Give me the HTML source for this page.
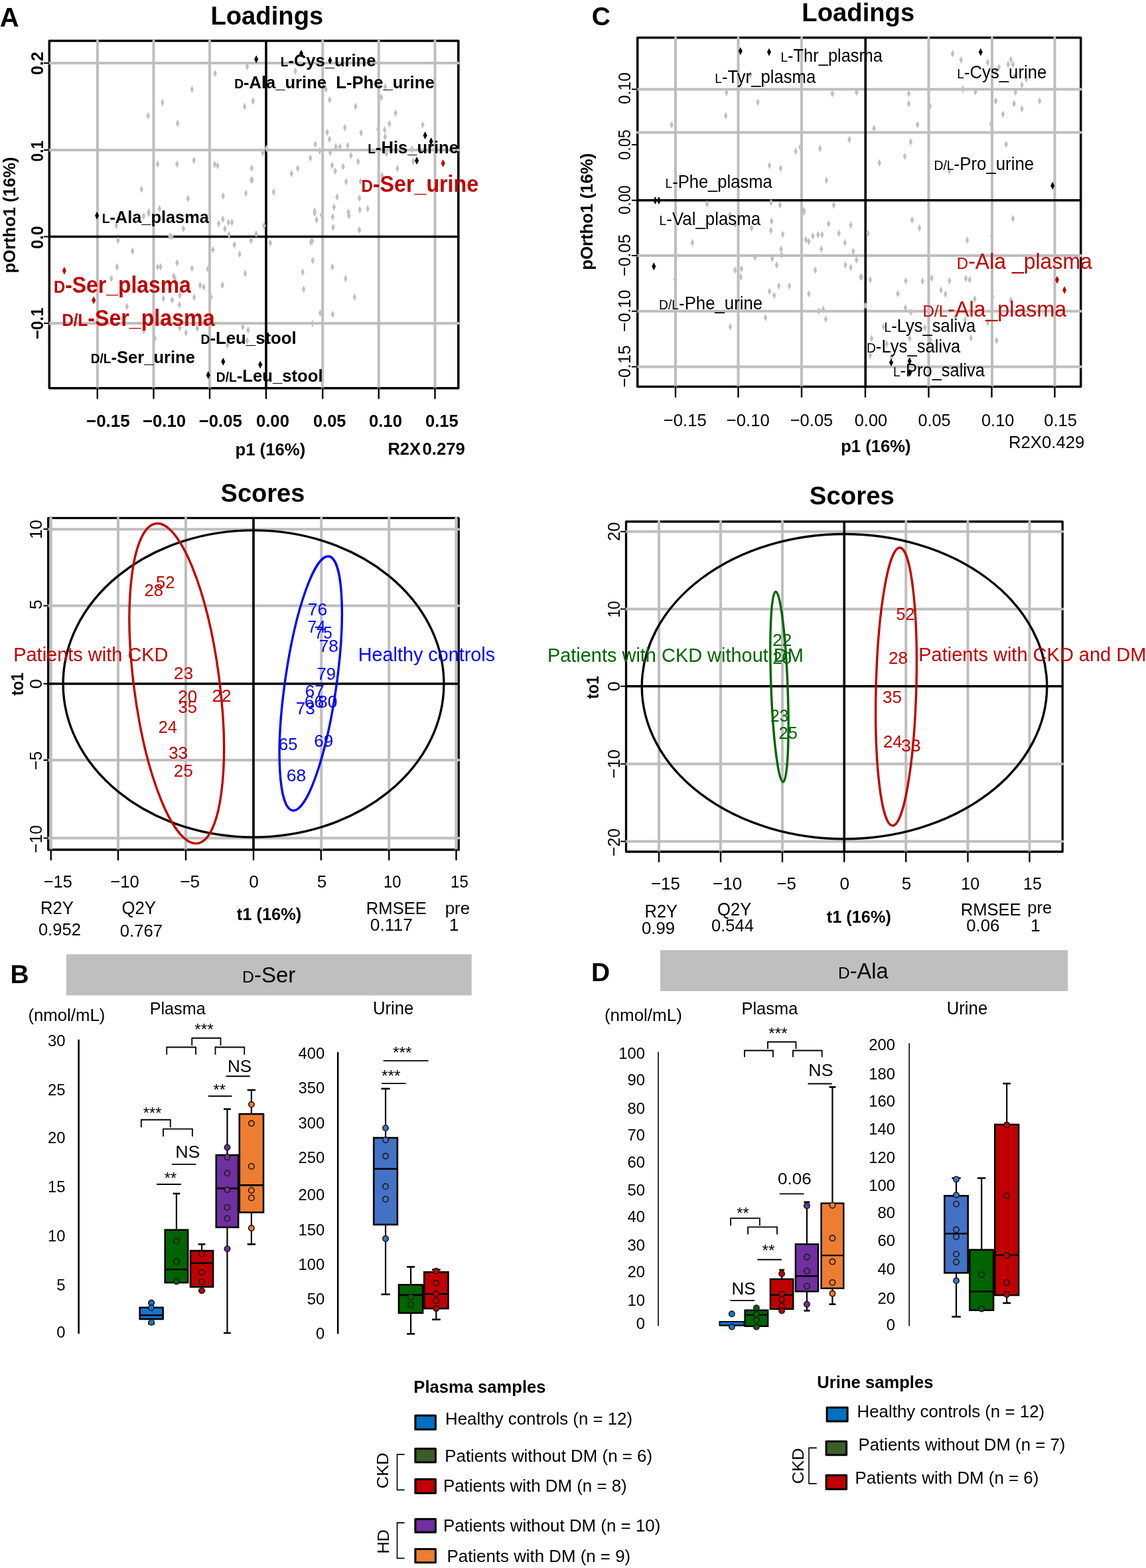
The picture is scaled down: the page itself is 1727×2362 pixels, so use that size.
<!DOCTYPE html>
<html><head><meta charset="utf-8"><title>Figure</title>
<style>html,body{margin:0;padding:0;background:#fff;}svg{display:block;}</style></head>
<body><svg width="1727" height="2362" viewBox="0 0 1727 2362" font-family='"Liberation Sans", Arial, Helvetica, sans-serif'>
<rect width="1727" height="2362" fill="#fff"/>
<rect x="74.30" y="61.50" width="616.50" height="523.30" fill="none" stroke="#000" stroke-width="3.50" stroke-linejoin="round"/>
<line x1="146.90" y1="61.50" x2="146.90" y2="584.80" stroke="#bebebe" stroke-width="4.00" stroke-linecap="round"/>
<line x1="231.50" y1="61.50" x2="231.50" y2="584.80" stroke="#bebebe" stroke-width="4.00" stroke-linecap="round"/>
<line x1="316.00" y1="61.50" x2="316.00" y2="584.80" stroke="#bebebe" stroke-width="4.00" stroke-linecap="round"/>
<line x1="486.25" y1="61.50" x2="486.25" y2="584.80" stroke="#bebebe" stroke-width="4.00" stroke-linecap="round"/>
<line x1="570.75" y1="61.50" x2="570.75" y2="584.80" stroke="#bebebe" stroke-width="4.00" stroke-linecap="round"/>
<line x1="655.50" y1="61.50" x2="655.50" y2="584.80" stroke="#bebebe" stroke-width="4.00" stroke-linecap="round"/>
<line x1="74.30" y1="95.10" x2="690.80" y2="95.10" stroke="#bebebe" stroke-width="4.00" stroke-linecap="round"/>
<line x1="74.30" y1="226.00" x2="690.80" y2="226.00" stroke="#bebebe" stroke-width="4.00" stroke-linecap="round"/>
<line x1="74.30" y1="487.00" x2="690.80" y2="487.00" stroke="#bebebe" stroke-width="4.00" stroke-linecap="round"/>
<line x1="401.00" y1="61.50" x2="401.00" y2="584.80" stroke="#000" stroke-width="3.60" stroke-linecap="butt"/>
<line x1="74.30" y1="356.50" x2="690.80" y2="356.50" stroke="#000" stroke-width="3.60" stroke-linecap="butt"/>
<path d="M372.4 94.3L375.1 100.0L372.4 105.7L369.6 100.0Z" fill="#c0c0c0"/>
<path d="M324.1 105.0L326.9 110.7L324.1 116.4L321.4 110.7Z" fill="#c0c0c0"/>
<path d="M289.4 128.9L292.1 134.6L289.4 140.3L286.6 134.6Z" fill="#c0c0c0"/>
<path d="M244.8 148.8L247.6 154.5L244.8 160.2L242.1 154.5Z" fill="#c0c0c0"/>
<path d="M368.6 154.8L371.4 160.5L368.6 166.2L365.9 160.5Z" fill="#c0c0c0"/>
<path d="M381.2 146.7L383.9 152.4L381.2 158.1L378.4 152.4Z" fill="#c0c0c0"/>
<path d="M223.2 168.5L225.9 174.2L223.2 179.9L220.4 174.2Z" fill="#c0c0c0"/>
<path d="M267.7 180.1L270.4 185.8L267.7 191.5L264.9 185.8Z" fill="#c0c0c0"/>
<path d="M237.6 241.6L240.3 247.3L237.6 253.0L234.8 247.3Z" fill="#c0c0c0"/>
<path d="M266.9 241.6L269.6 247.3L266.9 253.0L264.1 247.3Z" fill="#c0c0c0"/>
<path d="M292.2 235.8L294.9 241.5L292.2 247.2L289.4 241.5Z" fill="#c0c0c0"/>
<path d="M323.7 242.0L326.4 247.7L323.7 253.4L320.9 247.7Z" fill="#c0c0c0"/>
<path d="M327.9 243.9L330.6 249.6L327.9 255.3L325.1 249.6Z" fill="#c0c0c0"/>
<path d="M379.3 247.6L382.1 253.3L379.3 259.0L376.6 253.3Z" fill="#c0c0c0"/>
<path d="M378.6 265.5L381.4 271.2L378.6 276.9L375.9 271.2Z" fill="#c0c0c0"/>
<path d="M213.2 279.5L215.9 285.2L213.2 290.9L210.4 285.2Z" fill="#c0c0c0"/>
<path d="M283.2 293.3L285.9 299.0L283.2 304.7L280.4 299.0Z" fill="#c0c0c0"/>
<path d="M336.1 289.5L338.9 295.2L336.1 300.9L333.4 295.2Z" fill="#c0c0c0"/>
<path d="M370.5 285.2L373.2 290.9L370.5 296.6L367.8 290.9Z" fill="#c0c0c0"/>
<path d="M240.4 308.6L243.2 314.3L240.4 320.0L237.7 314.3Z" fill="#c0c0c0"/>
<path d="M224.1 313.3L226.8 319.0L224.1 324.7L221.3 319.0Z" fill="#c0c0c0"/>
<path d="M445.0 101.4L447.8 107.1L445.0 112.8L442.2 107.1Z" fill="#c0c0c0"/>
<path d="M381.5 146.6L384.2 152.3L381.5 158.0L378.8 152.3Z" fill="#c0c0c0"/>
<path d="M496.7 144.7L499.4 150.4L496.7 156.1L493.9 150.4Z" fill="#c0c0c0"/>
<path d="M491.1 128.7L493.9 134.4L491.1 140.1L488.4 134.4Z" fill="#c0c0c0"/>
<path d="M574.8 141.0L577.5 146.7L574.8 152.4L572.0 146.7Z" fill="#c0c0c0"/>
<path d="M580.5 125.0L583.2 130.7L580.5 136.4L577.8 130.7Z" fill="#c0c0c0"/>
<path d="M535.9 154.5L538.6 160.2L535.9 165.9L533.1 160.2Z" fill="#c0c0c0"/>
<path d="M596.1 164.5L598.9 170.2L596.1 175.9L593.4 170.2Z" fill="#c0c0c0"/>
<path d="M519.7 186.5L522.5 192.2L519.7 197.9L517.0 192.2Z" fill="#c0c0c0"/>
<path d="M586.7 180.5L589.5 186.2L586.7 191.9L584.0 186.2Z" fill="#c0c0c0"/>
<path d="M637.0 182.4L639.8 188.1L637.0 193.8L634.2 188.1Z" fill="#c0c0c0"/>
<path d="M544.2 194.6L547.0 200.3L544.2 206.0L541.5 200.3Z" fill="#c0c0c0"/>
<path d="M493.0 193.7L495.8 199.4L493.0 205.1L490.2 199.4Z" fill="#c0c0c0"/>
<path d="M496.3 204.0L499.1 209.7L496.3 215.4L493.6 209.7Z" fill="#c0c0c0"/>
<path d="M579.5 189.9L582.2 195.6L579.5 201.3L576.8 195.6Z" fill="#c0c0c0"/>
<path d="M580.5 200.3L583.2 206.0L580.5 211.7L577.8 206.0Z" fill="#c0c0c0"/>
<path d="M569.8 189.0L572.5 194.7L569.8 200.4L567.0 194.7Z" fill="#c0c0c0"/>
<path d="M475.1 211.5L477.9 217.2L475.1 222.9L472.4 217.2Z" fill="#c0c0c0"/>
<path d="M506.1 215.3L508.9 221.0L506.1 226.7L503.4 221.0Z" fill="#c0c0c0"/>
<path d="M512.3 215.3L515.0 221.0L512.3 226.7L509.5 221.0Z" fill="#c0c0c0"/>
<path d="M524.0 213.4L526.8 219.1L524.0 224.8L521.2 219.1Z" fill="#c0c0c0"/>
<path d="M401.6 218.1L404.4 223.8L401.6 229.5L398.9 223.8Z" fill="#c0c0c0"/>
<path d="M396.0 224.7L398.8 230.4L396.0 236.1L393.2 230.4Z" fill="#c0c0c0"/>
<path d="M481.7 221.9L484.4 227.6L481.7 233.3L478.9 227.6Z" fill="#c0c0c0"/>
<path d="M497.7 224.3L500.4 230.0L497.7 235.7L494.9 230.0Z" fill="#c0c0c0"/>
<path d="M528.7 228.5L531.5 234.2L528.7 239.9L526.0 234.2Z" fill="#c0c0c0"/>
<path d="M582.4 225.7L585.1 231.4L582.4 237.1L579.6 231.4Z" fill="#c0c0c0"/>
<path d="M621.0 219.1L623.8 224.8L621.0 230.5L618.2 224.8Z" fill="#c0c0c0"/>
<path d="M467.9 232.3L470.6 238.0L467.9 243.7L465.1 238.0Z" fill="#c0c0c0"/>
<path d="M539.6 237.5L542.4 243.2L539.6 248.9L536.9 243.2Z" fill="#c0c0c0"/>
<path d="M622.8 237.5L625.5 243.2L622.8 248.9L620.0 243.2Z" fill="#c0c0c0"/>
<path d="M448.7 247.9L451.4 253.6L448.7 259.3L445.9 253.6Z" fill="#c0c0c0"/>
<path d="M439.3 255.8L442.1 261.5L439.3 267.2L436.6 261.5Z" fill="#c0c0c0"/>
<path d="M500.5 243.6L503.2 249.3L500.5 255.0L497.8 249.3Z" fill="#c0c0c0"/>
<path d="M505.2 252.0L507.9 257.7L505.2 263.4L502.4 257.7Z" fill="#c0c0c0"/>
<path d="M517.0 245.4L519.8 251.1L517.0 256.8L514.2 251.1Z" fill="#c0c0c0"/>
<path d="M598.9 248.3L601.6 254.0L598.9 259.7L596.1 254.0Z" fill="#c0c0c0"/>
<path d="M521.6 268.0L524.4 273.7L521.6 279.4L518.9 273.7Z" fill="#c0c0c0"/>
<path d="M543.4 267.6L546.1 273.3L543.4 279.0L540.6 273.3Z" fill="#c0c0c0"/>
<path d="M575.8 258.7L578.5 264.4L575.8 270.1L573.0 264.4Z" fill="#c0c0c0"/>
<path d="M412.4 283.5L415.1 289.2L412.4 294.9L409.6 289.2Z" fill="#c0c0c0"/>
<path d="M508.0 291.0L510.8 296.7L508.0 302.4L505.2 296.7Z" fill="#c0c0c0"/>
<path d="M541.5 292.9L544.2 298.6L541.5 304.3L538.8 298.6Z" fill="#c0c0c0"/>
<path d="M503.3 306.6L506.1 312.3L503.3 318.0L500.6 312.3Z" fill="#c0c0c0"/>
<path d="M474.1 312.3L476.9 318.0L474.1 323.7L471.4 318.0Z" fill="#c0c0c0"/>
<path d="M525.0 314.1L527.8 319.8L525.0 325.5L522.2 319.8Z" fill="#c0c0c0"/>
<path d="M542.3 310.4L545.0 316.1L542.3 321.8L539.5 316.1Z" fill="#c0c0c0"/>
<path d="M554.1 308.5L556.9 314.2L554.1 319.9L551.4 314.2Z" fill="#c0c0c0"/>
<path d="M380.0 265.2L382.8 270.9L380.0 276.6L377.2 270.9Z" fill="#c0c0c0"/>
<path d="M175.3 334.0L178.1 339.7L175.3 345.4L172.6 339.7Z" fill="#c0c0c0"/>
<path d="M177.8 356.5L180.6 362.2L177.8 367.9L175.1 362.2Z" fill="#c0c0c0"/>
<path d="M199.7 372.5L202.4 378.2L199.7 383.9L196.9 378.2Z" fill="#c0c0c0"/>
<path d="M176.3 396.3L179.1 402.0L176.3 407.7L173.6 402.0Z" fill="#c0c0c0"/>
<path d="M167.8 413.8L170.6 419.5L167.8 425.2L165.1 419.5Z" fill="#c0c0c0"/>
<path d="M191.3 456.0L194.1 461.7L191.3 467.4L188.6 461.7Z" fill="#c0c0c0"/>
<path d="M237.6 396.3L240.3 402.0L237.6 407.7L234.8 402.0Z" fill="#c0c0c0"/>
<path d="M241.9 396.3L244.7 402.0L241.9 407.7L239.2 402.0Z" fill="#c0c0c0"/>
<path d="M266.9 390.3L269.6 396.0L266.9 401.7L264.1 396.0Z" fill="#c0c0c0"/>
<path d="M289.4 398.4L292.1 404.1L289.4 409.8L286.6 404.1Z" fill="#c0c0c0"/>
<path d="M261.7 410.0L264.4 415.7L261.7 421.4L258.9 415.7Z" fill="#c0c0c0"/>
<path d="M263.5 413.8L266.2 419.5L263.5 425.2L260.8 419.5Z" fill="#c0c0c0"/>
<path d="M313.3 399.7L316.1 405.4L313.3 411.1L310.6 405.4Z" fill="#c0c0c0"/>
<path d="M301.6 424.1L304.4 429.8L301.6 435.5L298.9 429.8Z" fill="#c0c0c0"/>
<path d="M307.1 426.5L309.9 432.2L307.1 437.9L304.4 432.2Z" fill="#c0c0c0"/>
<path d="M292.6 442.3L295.4 448.0L292.6 453.7L289.9 448.0Z" fill="#c0c0c0"/>
<path d="M271.0 439.1L273.8 444.8L271.0 450.5L268.2 444.8Z" fill="#c0c0c0"/>
<path d="M246.3 443.8L249.1 449.5L246.3 455.2L243.6 449.5Z" fill="#c0c0c0"/>
<path d="M259.4 446.2L262.1 451.9L259.4 457.6L256.6 451.9Z" fill="#c0c0c0"/>
<path d="M270.5 453.5L273.2 459.2L270.5 464.9L267.8 459.2Z" fill="#c0c0c0"/>
<path d="M318.0 441.9L320.8 447.6L318.0 453.3L315.2 447.6Z" fill="#c0c0c0"/>
<path d="M276.3 338.7L279.1 344.4L276.3 350.1L273.6 344.4Z" fill="#c0c0c0"/>
<path d="M256.0 350.0L258.8 355.7L256.0 361.4L253.2 355.7Z" fill="#c0c0c0"/>
<path d="M258.8 350.9L261.6 356.6L258.8 362.3L256.1 356.6Z" fill="#c0c0c0"/>
<path d="M329.6 331.2L332.4 336.9L329.6 342.6L326.9 336.9Z" fill="#c0c0c0"/>
<path d="M335.8 324.6L338.6 330.3L335.8 336.0L333.1 330.3Z" fill="#c0c0c0"/>
<path d="M344.2 329.3L346.9 335.0L344.2 340.7L341.4 335.0Z" fill="#c0c0c0"/>
<path d="M349.5 329.3L352.2 335.0L349.5 340.7L346.8 335.0Z" fill="#c0c0c0"/>
<path d="M339.0 338.7L341.8 344.4L339.0 350.1L336.2 344.4Z" fill="#c0c0c0"/>
<path d="M345.2 348.1L347.9 353.8L345.2 359.5L342.4 353.8Z" fill="#c0c0c0"/>
<path d="M378.4 356.5L381.1 362.2L378.4 367.9L375.6 362.2Z" fill="#c0c0c0"/>
<path d="M353.2 363.1L355.9 368.8L353.2 374.5L350.4 368.8Z" fill="#c0c0c0"/>
<path d="M320.8 370.6L323.6 376.3L320.8 382.0L318.1 376.3Z" fill="#c0c0c0"/>
<path d="M361.1 377.2L363.9 382.9L361.1 388.6L358.4 382.9Z" fill="#c0c0c0"/>
<path d="M369.5 406.2L372.2 411.9L369.5 417.6L366.8 411.9Z" fill="#c0c0c0"/>
<path d="M335.2 424.1L337.9 429.8L335.2 435.5L332.4 429.8Z" fill="#c0c0c0"/>
<path d="M216.6 319.9L219.3 325.6L216.6 331.3L213.8 325.6Z" fill="#c0c0c0"/>
<path d="M224.1 316.2L226.8 321.9L224.1 327.6L221.3 321.9Z" fill="#c0c0c0"/>
<path d="M271.0 487.9L273.8 493.6L271.0 499.3L268.2 493.6Z" fill="#c0c0c0"/>
<path d="M280.4 495.4L283.1 501.1L280.4 506.8L277.6 501.1Z" fill="#c0c0c0"/>
<path d="M297.3 488.8L300.1 494.5L297.3 500.2L294.6 494.5Z" fill="#c0c0c0"/>
<path d="M216.6 492.6L219.3 498.3L216.6 504.0L213.8 498.3Z" fill="#c0c0c0"/>
<path d="M233.5 503.8L236.2 509.5L233.5 515.2L230.8 509.5Z" fill="#c0c0c0"/>
<path d="M365.8 486.9L368.6 492.6L365.8 498.3L363.1 492.6Z" fill="#c0c0c0"/>
<path d="M373.9 491.6L376.6 497.3L373.9 503.0L371.1 497.3Z" fill="#c0c0c0"/>
<path d="M372.4 507.6L375.1 513.3L372.4 519.0L369.6 513.3Z" fill="#c0c0c0"/>
<path d="M342.7 514.2L345.4 519.9L342.7 525.6L339.9 519.9Z" fill="#c0c0c0"/>
<path d="M397.9 334.6L400.6 340.3L397.9 346.0L395.1 340.3Z" fill="#c0c0c0"/>
<path d="M386.0 346.7L388.8 352.4L386.0 358.1L383.2 352.4Z" fill="#c0c0c0"/>
<path d="M407.3 360.4L410.1 366.1L407.3 371.8L404.6 366.1Z" fill="#c0c0c0"/>
<path d="M470.4 357.6L473.1 363.3L470.4 369.0L467.6 363.3Z" fill="#c0c0c0"/>
<path d="M468.5 359.1L471.2 364.8L468.5 370.5L465.8 364.8Z" fill="#c0c0c0"/>
<path d="M477.0 325.6L479.8 331.3L477.0 337.0L474.2 331.3Z" fill="#c0c0c0"/>
<path d="M484.5 318.1L487.2 323.8L484.5 329.5L481.8 323.8Z" fill="#c0c0c0"/>
<path d="M501.4 320.9L504.1 326.6L501.4 332.3L498.6 326.6Z" fill="#c0c0c0"/>
<path d="M502.0 336.9L504.8 342.6L502.0 348.3L499.2 342.6Z" fill="#c0c0c0"/>
<path d="M525.9 319.0L528.6 324.7L525.9 330.4L523.1 324.7Z" fill="#c0c0c0"/>
<path d="M541.5 340.7L544.2 346.4L541.5 352.1L538.8 346.4Z" fill="#c0c0c0"/>
<path d="M471.3 386.8L474.1 392.5L471.3 398.2L468.6 392.5Z" fill="#c0c0c0"/>
<path d="M500.9 396.2L503.6 401.9L500.9 407.6L498.1 401.9Z" fill="#c0c0c0"/>
<path d="M456.2 404.3L458.9 410.0L456.2 415.7L453.4 410.0Z" fill="#c0c0c0"/>
<path d="M520.8 414.1L523.5 419.8L520.8 425.5L518.0 419.8Z" fill="#c0c0c0"/>
<path d="M457.7 430.1L460.4 435.8L457.7 441.5L454.9 435.8Z" fill="#c0c0c0"/>
<path d="M534.4 441.9L537.1 447.6L534.4 453.3L531.6 447.6Z" fill="#c0c0c0"/>
<path d="M482.6 465.8L485.4 471.5L482.6 477.2L479.9 471.5Z" fill="#c0c0c0"/>
<path d="M501.4 467.7L504.1 473.4L501.4 479.1L498.6 473.4Z" fill="#c0c0c0"/>
<path d="M470.9 481.5L473.6 487.2L470.9 492.9L468.1 487.2Z" fill="#c0c0c0"/>
<path d="M474.1 315.3L476.9 321.0L474.1 326.7L471.4 321.0Z" fill="#c0c0c0"/>
<line x1="146.75" y1="584.80" x2="146.75" y2="600.00" stroke="#000" stroke-width="2.40" stroke-linecap="round"/>
<line x1="231.50" y1="584.80" x2="231.50" y2="600.00" stroke="#000" stroke-width="2.40" stroke-linecap="round"/>
<line x1="316.00" y1="584.80" x2="316.00" y2="600.00" stroke="#000" stroke-width="2.40" stroke-linecap="round"/>
<line x1="401.00" y1="584.80" x2="401.00" y2="600.00" stroke="#000" stroke-width="2.40" stroke-linecap="round"/>
<line x1="486.25" y1="584.80" x2="486.25" y2="600.00" stroke="#000" stroke-width="2.40" stroke-linecap="round"/>
<line x1="570.75" y1="584.80" x2="570.75" y2="600.00" stroke="#000" stroke-width="2.40" stroke-linecap="round"/>
<line x1="655.50" y1="584.80" x2="655.50" y2="600.00" stroke="#000" stroke-width="2.40" stroke-linecap="round"/>
<line x1="66.00" y1="95.00" x2="74.30" y2="95.00" stroke="#000" stroke-width="2.00" stroke-linecap="butt"/>
<line x1="66.00" y1="226.00" x2="74.30" y2="226.00" stroke="#000" stroke-width="2.00" stroke-linecap="butt"/>
<line x1="66.00" y1="356.50" x2="74.30" y2="356.50" stroke="#000" stroke-width="2.00" stroke-linecap="butt"/>
<line x1="66.00" y1="487.00" x2="74.30" y2="487.00" stroke="#000" stroke-width="2.00" stroke-linecap="butt"/>
<path d="M386.2 83.2L389.2 89.2L386.2 95.2L383.2 89.2Z" fill="#000"/>
<path d="M454.0 74.8L457.0 80.8L454.0 86.8L451.0 80.8Z" fill="#000"/>
<path d="M497.3 85.1L500.3 91.1L497.3 97.1L494.3 91.1Z" fill="#000"/>
<path d="M640.7 198.1L643.7 204.1L640.7 210.1L637.7 204.1Z" fill="#000"/>
<path d="M649.6 207.1L652.6 213.1L649.6 219.1L646.6 213.1Z" fill="#000"/>
<path d="M628.1 236.1L631.1 242.1L628.1 248.1L625.1 242.1Z" fill="#000"/>
<path d="M146.2 318.7L149.2 324.7L146.2 330.7L143.2 324.7Z" fill="#000"/>
<path d="M336.3 538.8L339.3 544.8L336.3 550.8L333.3 544.8Z" fill="#000"/>
<path d="M313.8 558.9L316.8 564.9L313.8 570.9L310.8 564.9Z" fill="#000"/>
<path d="M392.2 543.3L395.2 549.3L392.2 555.3L389.2 549.3Z" fill="#000"/>
<path d="M667.7 240.1L670.7 246.1L667.7 252.1L664.7 246.1Z" fill="#c00000"/>
<path d="M96.9 401.8L99.9 407.8L96.9 413.8L93.9 407.8Z" fill="#c00000"/>
<path d="M141.2 446.3L144.2 452.3L141.2 458.3L138.2 452.3Z" fill="#c00000"/>
<text transform="translate(-0.30 39.80) scale(1.0000 1)" font-size="40.00" font-weight="bold" fill="#000">A</text>
<text transform="translate(317.42 36.80) scale(0.9677 1)" font-size="39.50" font-weight="bold" fill="#000">Loadings</text>
<text transform="translate(129.96 642.60) scale(0.9781 1)" font-size="26.60" font-weight="bold" fill="#000">−0.15</text>
<text transform="translate(214.97 642.60) scale(0.9667 1)" font-size="26.60" font-weight="bold" fill="#000">−0.10</text>
<text transform="translate(299.72 642.60) scale(0.9666 1)" font-size="26.60" font-weight="bold" fill="#000">−0.05</text>
<text transform="translate(385.97 642.60) scale(0.9650 1)" font-size="26.60" font-weight="bold" fill="#000">0.00</text>
<text transform="translate(471.98 642.60) scale(0.9548 1)" font-size="26.60" font-weight="bold" fill="#000">0.05</text>
<text transform="translate(555.97 642.60) scale(0.9650 1)" font-size="26.60" font-weight="bold" fill="#000">0.10</text>
<text transform="translate(640.98 642.60) scale(0.9598 1)" font-size="26.60" font-weight="bold" fill="#000">0.15</text>
<text transform="translate(354.40 685.80) scale(0.9909 1)" font-size="26.00" font-weight="bold" fill="#000">p1 (16%)</text>
<text transform="translate(584.42 684.90) scale(0.9559 1)" font-size="26.60" font-weight="bold" fill="#000">R2X</text>
<text transform="translate(636.47 684.90) scale(0.9669 1)" font-size="26.60" font-weight="bold" fill="#000">0.279</text>
<text transform="translate(64.60 112.90) rotate(-90) scale(0.9477 1)" font-size="26.50" font-weight="bold" fill="#000">0.2</text>
<text transform="translate(64.60 243.41) rotate(-90) scale(0.8548 1)" font-size="26.50" font-weight="bold" fill="#000">0.1</text>
<text transform="translate(64.60 375.00) rotate(-90) scale(0.9391 1)" font-size="26.50" font-weight="bold" fill="#000">0.0</text>
<text transform="translate(64.60 511.07) rotate(-90) scale(0.9167 1)" font-size="26.50" font-weight="bold" fill="#000">−0.1</text>
<text transform="translate(22.60 411.59) rotate(-90) scale(0.9673 1)" font-size="26.50" font-weight="bold" fill="#000">pOrtho1 (16%)</text>
<text transform="translate(422.72 100.00) scale(0.9638 1)" font-size="26.50" font-weight="bold" fill="#000"><tspan font-size="19.88">L</tspan><tspan>-Cys_urine</tspan></text>
<text transform="translate(353.22 132.50) scale(0.9646 1)" font-size="26.50" font-weight="bold" fill="#000"><tspan font-size="19.88">D</tspan><tspan>-Ala_urine</tspan></text>
<text transform="translate(506.20 132.50) scale(0.9700 1)" font-size="26.50" font-weight="bold" fill="#000">L-Phe_urine</text>
<text transform="translate(554.22 231.00) scale(0.9649 1)" font-size="26.50" font-weight="bold" fill="#000"><tspan font-size="19.88">L</tspan><tspan>-His_urine</tspan></text>
<text transform="translate(153.73 335.50) scale(0.9584 1)" font-size="26.50" font-weight="bold" fill="#000"><tspan font-size="19.88">L</tspan><tspan>-Ala_plasma</tspan></text>
<text transform="translate(302.46 517.50) scale(0.9727 1)" font-size="26.50" font-weight="bold" fill="#000"><tspan font-size="19.88">D</tspan><tspan>-Leu_stool</tspan></text>
<text transform="translate(136.72 547.00) scale(0.9636 1)" font-size="26.50" font-weight="bold" fill="#000"><tspan font-size="19.88">D/L</tspan><tspan>-Ser_urine</tspan></text>
<text transform="translate(325.72 574.50) scale(0.9695 1)" font-size="26.50" font-weight="bold" fill="#000"><tspan font-size="19.88">D/L</tspan><tspan>-Leu_stool</tspan></text>
<text transform="translate(544.39 289.30) scale(0.9367 1)" font-size="34.40" font-weight="bold" fill="#c00000"><tspan font-size="25.80">D</tspan><tspan>-Ser_urine</tspan></text>
<text transform="translate(80.90 441.00) scale(0.9276 1)" font-size="34.40" font-weight="bold" fill="#c00000"><tspan font-size="25.80">D</tspan><tspan>-Ser_plasma</tspan></text>
<text transform="translate(93.39 490.50) scale(0.9353 1)" font-size="34.40" font-weight="bold" fill="#c00000"><tspan font-size="25.80">D/L</tspan><tspan>-Ser_plasma</tspan></text>
<rect x="960.75" y="56.80" width="668.00" height="525.70" fill="none" stroke="#000" stroke-width="3.50" stroke-linejoin="round"/>
<line x1="1018.00" y1="56.80" x2="1018.00" y2="582.50" stroke="#bebebe" stroke-width="4.00" stroke-linecap="round"/>
<line x1="1112.50" y1="56.80" x2="1112.50" y2="582.50" stroke="#bebebe" stroke-width="4.00" stroke-linecap="round"/>
<line x1="1208.00" y1="56.80" x2="1208.00" y2="582.50" stroke="#bebebe" stroke-width="4.00" stroke-linecap="round"/>
<line x1="1399.50" y1="56.80" x2="1399.50" y2="582.50" stroke="#bebebe" stroke-width="4.00" stroke-linecap="round"/>
<line x1="1495.00" y1="56.80" x2="1495.00" y2="582.50" stroke="#bebebe" stroke-width="4.00" stroke-linecap="round"/>
<line x1="1589.50" y1="56.80" x2="1589.50" y2="582.50" stroke="#bebebe" stroke-width="4.00" stroke-linecap="round"/>
<line x1="960.75" y1="134.50" x2="1629.50" y2="134.50" stroke="#bebebe" stroke-width="4.00" stroke-linecap="round"/>
<line x1="960.75" y1="199.50" x2="1629.50" y2="199.50" stroke="#bebebe" stroke-width="4.00" stroke-linecap="round"/>
<line x1="960.75" y1="385.00" x2="1629.50" y2="385.00" stroke="#bebebe" stroke-width="4.00" stroke-linecap="round"/>
<line x1="960.75" y1="468.75" x2="1629.50" y2="468.75" stroke="#bebebe" stroke-width="4.00" stroke-linecap="round"/>
<line x1="960.75" y1="552.50" x2="1629.50" y2="552.50" stroke="#bebebe" stroke-width="4.00" stroke-linecap="round"/>
<line x1="1304.25" y1="56.80" x2="1304.25" y2="582.50" stroke="#000" stroke-width="3.60" stroke-linecap="butt"/>
<line x1="960.75" y1="301.75" x2="1628.75" y2="301.75" stroke="#000" stroke-width="3.60" stroke-linecap="butt"/>
<path d="M1094.8 133.6L1097.5 139.3L1094.8 145.0L1092.0 139.3Z" fill="#c0c0c0"/>
<path d="M1142.1 148.4L1144.8 154.1L1142.1 159.8L1139.3 154.1Z" fill="#c0c0c0"/>
<path d="M1093.8 168.6L1096.5 174.3L1093.8 180.0L1091.0 174.3Z" fill="#c0c0c0"/>
<path d="M1012.1 182.4L1014.9 188.1L1012.1 193.8L1009.4 188.1Z" fill="#c0c0c0"/>
<path d="M1254.3 135.3L1257.0 141.0L1254.3 146.7L1251.5 141.0Z" fill="#c0c0c0"/>
<path d="M1290.7 133.2L1293.5 138.9L1290.7 144.6L1288.0 138.9Z" fill="#c0c0c0"/>
<path d="M1280.0 204.6L1282.8 210.3L1280.0 216.0L1277.2 210.3Z" fill="#c0c0c0"/>
<path d="M1235.8 218.0L1238.5 223.7L1235.8 229.4L1233.0 223.7Z" fill="#c0c0c0"/>
<path d="M1199.1 222.1L1201.8 227.8L1199.1 233.5L1196.3 227.8Z" fill="#c0c0c0"/>
<path d="M1205.9 215.9L1208.7 221.6L1205.9 227.3L1203.2 221.6Z" fill="#c0c0c0"/>
<path d="M1159.6 243.7L1162.3 249.4L1159.6 255.1L1156.8 249.4Z" fill="#c0c0c0"/>
<path d="M1176.5 247.8L1179.2 253.5L1176.5 259.2L1173.8 253.5Z" fill="#c0c0c0"/>
<path d="M1245.4 266.0L1248.2 271.7L1245.4 277.4L1242.7 271.7Z" fill="#c0c0c0"/>
<path d="M1083.5 269.9L1086.2 275.6L1083.5 281.3L1080.8 275.6Z" fill="#c0c0c0"/>
<path d="M1065.4 301.3L1068.2 307.0L1065.4 312.7L1062.7 307.0Z" fill="#c0c0c0"/>
<path d="M1162.1 299.3L1164.8 305.0L1162.1 310.7L1159.3 305.0Z" fill="#c0c0c0"/>
<path d="M1175.5 303.4L1178.2 309.1L1175.5 314.8L1172.8 309.1Z" fill="#c0c0c0"/>
<path d="M1256.4 303.4L1259.2 309.1L1256.4 314.8L1253.7 309.1Z" fill="#c0c0c0"/>
<path d="M1211.5 311.6L1214.2 317.3L1211.5 323.0L1208.8 317.3Z" fill="#c0c0c0"/>
<path d="M1130.8 106.9L1133.5 112.6L1130.8 118.3L1128.0 112.6Z" fill="#c0c0c0"/>
<path d="M1435.6 75.0L1438.3 80.7L1435.6 86.4L1432.8 80.7Z" fill="#c0c0c0"/>
<path d="M1448.3 84.6L1451.0 90.3L1448.3 96.0L1445.5 90.3Z" fill="#c0c0c0"/>
<path d="M1488.5 88.3L1491.2 94.0L1488.5 99.7L1485.8 94.0Z" fill="#c0c0c0"/>
<path d="M1505.3 95.5L1508.0 101.2L1505.3 106.9L1502.5 101.2Z" fill="#c0c0c0"/>
<path d="M1519.3 91.4L1522.0 97.1L1519.3 102.8L1516.5 97.1Z" fill="#c0c0c0"/>
<path d="M1523.4 84.2L1526.2 89.9L1523.4 95.6L1520.7 89.9Z" fill="#c0c0c0"/>
<path d="M1526.5 91.4L1529.2 97.1L1526.5 102.8L1523.8 97.1Z" fill="#c0c0c0"/>
<path d="M1500.8 100.7L1503.5 106.4L1500.8 112.1L1498.0 106.4Z" fill="#c0c0c0"/>
<path d="M1529.6 108.9L1532.3 114.6L1529.6 120.3L1526.8 114.6Z" fill="#c0c0c0"/>
<path d="M1546.5 113.0L1549.2 118.7L1546.5 124.4L1543.8 118.7Z" fill="#c0c0c0"/>
<path d="M1539.9 122.3L1542.7 128.0L1539.9 133.7L1537.2 128.0Z" fill="#c0c0c0"/>
<path d="M1450.8 128.5L1453.5 134.2L1450.8 139.9L1448.0 134.2Z" fill="#c0c0c0"/>
<path d="M1469.9 132.6L1472.7 138.3L1469.9 144.0L1467.2 138.3Z" fill="#c0c0c0"/>
<path d="M1530.2 133.2L1533.0 138.9L1530.2 144.6L1527.5 138.9Z" fill="#c0c0c0"/>
<path d="M1369.5 135.3L1372.2 141.0L1369.5 146.7L1366.8 141.0Z" fill="#c0c0c0"/>
<path d="M1369.5 150.5L1372.2 156.2L1369.5 161.9L1366.8 156.2Z" fill="#c0c0c0"/>
<path d="M1401.6 154.2L1404.3 159.9L1401.6 165.6L1398.8 159.9Z" fill="#c0c0c0"/>
<path d="M1500.4 146.4L1503.2 152.1L1500.4 157.8L1497.7 152.1Z" fill="#c0c0c0"/>
<path d="M1528.2 150.5L1531.0 156.2L1528.2 161.9L1525.5 156.2Z" fill="#c0c0c0"/>
<path d="M1566.7 146.4L1569.5 152.1L1566.7 157.8L1564.0 152.1Z" fill="#c0c0c0"/>
<path d="M1539.9 158.3L1542.7 164.0L1539.9 169.7L1537.2 164.0Z" fill="#c0c0c0"/>
<path d="M1511.5 166.5L1514.2 172.2L1511.5 177.9L1508.8 172.2Z" fill="#c0c0c0"/>
<path d="M1382.7 182.0L1385.5 187.7L1382.7 193.4L1380.0 187.7Z" fill="#c0c0c0"/>
<path d="M1317.2 187.5L1320.0 193.2L1317.2 198.9L1314.5 193.2Z" fill="#c0c0c0"/>
<path d="M1493.6 181.0L1496.3 186.7L1493.6 192.4L1490.8 186.7Z" fill="#c0c0c0"/>
<path d="M1495.0 189.6L1497.8 195.3L1495.0 201.0L1492.2 195.3Z" fill="#c0c0c0"/>
<path d="M1372.4 208.1L1375.2 213.8L1372.4 219.5L1369.7 213.8Z" fill="#c0c0c0"/>
<path d="M1516.2 211.8L1519.0 217.5L1516.2 223.2L1513.5 217.5Z" fill="#c0c0c0"/>
<path d="M1363.5 229.9L1366.2 235.6L1363.5 241.3L1360.8 235.6Z" fill="#c0c0c0"/>
<path d="M1325.3 239.6L1328.0 245.3L1325.3 251.0L1322.5 245.3Z" fill="#c0c0c0"/>
<path d="M1430.8 252.0L1433.5 257.7L1430.8 263.4L1428.0 257.7Z" fill="#c0c0c0"/>
<path d="M1211.5 313.9L1214.2 319.6L1211.5 325.3L1208.8 319.6Z" fill="#c0c0c0"/>
<path d="M1100.0 318.0L1102.8 323.7L1100.0 329.4L1097.2 323.7Z" fill="#c0c0c0"/>
<path d="M1162.7 327.6L1165.5 333.3L1162.7 339.0L1160.0 333.3Z" fill="#c0c0c0"/>
<path d="M1107.8 332.4L1110.5 338.1L1107.8 343.8L1105.0 338.1Z" fill="#c0c0c0"/>
<path d="M1132.5 337.9L1135.2 343.6L1132.5 349.3L1129.8 343.6Z" fill="#c0c0c0"/>
<path d="M1161.7 341.6L1164.5 347.3L1161.7 353.0L1159.0 347.3Z" fill="#c0c0c0"/>
<path d="M1179.6 347.4L1182.3 353.1L1179.6 358.8L1176.8 353.1Z" fill="#c0c0c0"/>
<path d="M1043.4 359.7L1046.2 365.4L1043.4 371.1L1040.7 365.4Z" fill="#c0c0c0"/>
<path d="M1248.7 331.3L1251.5 337.0L1248.7 342.7L1246.0 337.0Z" fill="#c0c0c0"/>
<path d="M1282.1 333.4L1284.8 339.1L1282.1 344.8L1279.3 339.1Z" fill="#c0c0c0"/>
<path d="M1214.6 355.6L1217.3 361.3L1214.6 367.0L1211.8 361.3Z" fill="#c0c0c0"/>
<path d="M1218.9 358.1L1221.7 363.8L1218.9 369.5L1216.2 363.8Z" fill="#c0c0c0"/>
<path d="M1224.9 349.9L1227.7 355.6L1224.9 361.3L1222.2 355.6Z" fill="#c0c0c0"/>
<path d="M1232.7 347.8L1235.5 353.5L1232.7 359.2L1230.0 353.5Z" fill="#c0c0c0"/>
<path d="M1238.9 347.8L1241.7 353.5L1238.9 359.2L1236.2 353.5Z" fill="#c0c0c0"/>
<path d="M1264.2 345.8L1267.0 351.5L1264.2 357.2L1261.5 351.5Z" fill="#c0c0c0"/>
<path d="M1273.2 359.7L1276.0 365.4L1273.2 371.1L1270.5 365.4Z" fill="#c0c0c0"/>
<path d="M1237.8 369.4L1240.5 375.1L1237.8 380.8L1235.0 375.1Z" fill="#c0c0c0"/>
<path d="M1177.1 369.4L1179.8 375.1L1177.1 380.8L1174.3 375.1Z" fill="#c0c0c0"/>
<path d="M1285.8 373.1L1288.5 378.8L1285.8 384.5L1283.0 378.8Z" fill="#c0c0c0"/>
<path d="M1138.0 381.8L1140.8 387.5L1138.0 393.2L1135.2 387.5Z" fill="#c0c0c0"/>
<path d="M1163.7 383.8L1166.5 389.5L1163.7 395.2L1161.0 389.5Z" fill="#c0c0c0"/>
<path d="M1177.7 378.3L1180.5 384.0L1177.7 389.7L1175.0 384.0Z" fill="#c0c0c0"/>
<path d="M1290.7 385.9L1293.5 391.6L1290.7 397.3L1288.0 391.6Z" fill="#c0c0c0"/>
<path d="M1170.5 393.5L1173.2 399.2L1170.5 404.9L1167.8 399.2Z" fill="#c0c0c0"/>
<path d="M1107.8 401.3L1110.5 407.0L1107.8 412.7L1105.0 407.0Z" fill="#c0c0c0"/>
<path d="M1117.4 399.3L1120.2 405.0L1117.4 410.7L1114.7 405.0Z" fill="#c0c0c0"/>
<path d="M1116.4 411.6L1119.2 417.3L1116.4 423.0L1113.7 417.3Z" fill="#c0c0c0"/>
<path d="M1017.2 415.3L1020.0 421.0L1017.2 426.7L1014.5 421.0Z" fill="#c0c0c0"/>
<path d="M1228.6 401.3L1231.3 407.0L1228.6 412.7L1225.8 407.0Z" fill="#c0c0c0"/>
<path d="M1273.9 393.5L1276.7 399.2L1273.9 404.9L1271.2 399.2Z" fill="#c0c0c0"/>
<path d="M1282.1 397.2L1284.8 402.9L1282.1 408.6L1279.3 402.9Z" fill="#c0c0c0"/>
<path d="M1297.1 411.6L1299.8 417.3L1297.1 423.0L1294.3 417.3Z" fill="#c0c0c0"/>
<path d="M1173.6 425.0L1176.3 430.7L1173.6 436.4L1170.8 430.7Z" fill="#c0c0c0"/>
<path d="M1189.5 425.0L1192.2 430.7L1189.5 436.4L1186.8 430.7Z" fill="#c0c0c0"/>
<path d="M1159.6 433.2L1162.3 438.9L1159.6 444.6L1156.8 438.9Z" fill="#c0c0c0"/>
<path d="M1166.8 439.4L1169.5 445.1L1166.8 450.8L1164.0 445.1Z" fill="#c0c0c0"/>
<path d="M1218.9 436.9L1221.7 442.6L1218.9 448.3L1216.2 442.6Z" fill="#c0c0c0"/>
<path d="M1208.0 453.2L1210.8 458.9L1208.0 464.6L1205.2 458.9Z" fill="#c0c0c0"/>
<path d="M1233.7 463.1L1236.5 468.8L1233.7 474.5L1231.0 468.8Z" fill="#c0c0c0"/>
<path d="M1240.5 460.0L1243.2 465.7L1240.5 471.4L1237.8 465.7Z" fill="#c0c0c0"/>
<path d="M1244.4 475.0L1247.2 480.7L1244.4 486.4L1241.7 480.7Z" fill="#c0c0c0"/>
<path d="M1153.5 472.9L1156.2 478.6L1153.5 484.3L1150.8 478.6Z" fill="#c0c0c0"/>
<path d="M1100.6 486.7L1103.3 492.4L1100.6 498.1L1097.8 492.4Z" fill="#c0c0c0"/>
<path d="M1374.6 325.6L1377.3 331.3L1374.6 337.0L1371.8 331.3Z" fill="#c0c0c0"/>
<path d="M1385.6 337.5L1388.3 343.2L1385.6 348.9L1382.8 343.2Z" fill="#c0c0c0"/>
<path d="M1307.8 345.8L1310.5 351.5L1307.8 357.2L1305.0 351.5Z" fill="#c0c0c0"/>
<path d="M1457.6 356.0L1460.3 361.7L1457.6 367.4L1454.8 361.7Z" fill="#c0c0c0"/>
<path d="M1526.5 323.5L1529.2 329.2L1526.5 334.9L1523.8 329.2Z" fill="#c0c0c0"/>
<path d="M1494.6 349.9L1497.3 355.6L1494.6 361.3L1491.8 355.6Z" fill="#c0c0c0"/>
<path d="M1298.1 411.6L1300.8 417.3L1298.1 423.0L1295.3 417.3Z" fill="#c0c0c0"/>
<path d="M1311.5 415.7L1314.2 421.4L1311.5 427.1L1308.8 421.4Z" fill="#c0c0c0"/>
<path d="M1365.0 417.4L1367.8 423.1L1365.0 428.8L1362.2 423.1Z" fill="#c0c0c0"/>
<path d="M1390.3 417.8L1393.0 423.5L1390.3 429.2L1387.5 423.5Z" fill="#c0c0c0"/>
<path d="M1404.1 413.3L1406.8 419.0L1404.1 424.7L1401.3 419.0Z" fill="#c0c0c0"/>
<path d="M1430.8 417.4L1433.5 423.1L1430.8 428.8L1428.0 423.1Z" fill="#c0c0c0"/>
<path d="M1455.5 413.7L1458.2 419.4L1455.5 425.1L1452.8 419.4Z" fill="#c0c0c0"/>
<path d="M1461.3 415.7L1464.0 421.4L1461.3 427.1L1458.5 421.4Z" fill="#c0c0c0"/>
<path d="M1353.0 436.7L1355.8 442.4L1353.0 448.1L1350.2 442.4Z" fill="#c0c0c0"/>
<path d="M1418.1 431.2L1420.8 436.9L1418.1 442.6L1415.3 436.9Z" fill="#c0c0c0"/>
<path d="M1424.7 437.3L1427.5 443.0L1424.7 448.7L1422.0 443.0Z" fill="#c0c0c0"/>
<path d="M1468.9 444.5L1471.7 450.2L1468.9 455.9L1466.2 450.2Z" fill="#c0c0c0"/>
<path d="M1495.7 440.8L1498.5 446.5L1495.7 452.2L1493.0 446.5Z" fill="#c0c0c0"/>
<path d="M1523.4 446.6L1526.2 452.3L1523.4 458.0L1520.7 452.3Z" fill="#c0c0c0"/>
<path d="M1304.3 454.8L1307.0 460.5L1304.3 466.2L1301.5 460.5Z" fill="#c0c0c0"/>
<path d="M1364.4 457.9L1367.2 463.6L1364.4 469.3L1361.7 463.6Z" fill="#c0c0c0"/>
<path d="M1372.6 464.7L1375.3 470.4L1372.6 476.1L1369.8 470.4Z" fill="#c0c0c0"/>
<path d="M1440.1 472.3L1442.8 478.0L1440.1 483.7L1437.3 478.0Z" fill="#c0c0c0"/>
<path d="M1454.5 476.4L1457.2 482.1L1454.5 487.8L1451.8 482.1Z" fill="#c0c0c0"/>
<path d="M1488.5 479.5L1491.2 485.2L1488.5 490.9L1485.8 485.2Z" fill="#c0c0c0"/>
<path d="M1331.6 486.7L1334.3 492.4L1331.6 498.1L1328.8 492.4Z" fill="#c0c0c0"/>
<path d="M1393.8 487.8L1396.5 493.5L1393.8 499.2L1391.0 493.5Z" fill="#c0c0c0"/>
<path d="M1313.5 504.2L1316.2 509.9L1313.5 515.6L1310.8 509.9Z" fill="#c0c0c0"/>
<path d="M1371.1 504.2L1373.8 509.9L1371.1 515.6L1368.3 509.9Z" fill="#c0c0c0"/>
<path d="M1402.0 506.3L1404.8 512.0L1402.0 517.7L1399.2 512.0Z" fill="#c0c0c0"/>
<path d="M1463.3 503.2L1466.0 508.9L1463.3 514.6L1460.5 508.9Z" fill="#c0c0c0"/>
<path d="M1501.8 507.3L1504.5 513.0L1501.8 518.7L1499.0 513.0Z" fill="#c0c0c0"/>
<path d="M1336.2 512.5L1339.0 518.2L1336.2 523.9L1333.5 518.2Z" fill="#c0c0c0"/>
<path d="M1311.5 529.9L1314.2 535.6L1311.5 541.3L1308.8 535.6Z" fill="#c0c0c0"/>
<path d="M1343.4 532.0L1346.2 537.7L1343.4 543.4L1340.7 537.7Z" fill="#c0c0c0"/>
<line x1="1018.00" y1="582.50" x2="1018.00" y2="597.80" stroke="#000" stroke-width="2.40" stroke-linecap="round"/>
<line x1="1112.50" y1="582.50" x2="1112.50" y2="597.80" stroke="#000" stroke-width="2.40" stroke-linecap="round"/>
<line x1="1208.00" y1="582.50" x2="1208.00" y2="597.80" stroke="#000" stroke-width="2.40" stroke-linecap="round"/>
<line x1="1304.00" y1="582.50" x2="1304.00" y2="597.80" stroke="#000" stroke-width="2.40" stroke-linecap="round"/>
<line x1="1399.50" y1="582.50" x2="1399.50" y2="597.80" stroke="#000" stroke-width="2.40" stroke-linecap="round"/>
<line x1="1494.50" y1="582.50" x2="1494.50" y2="597.80" stroke="#000" stroke-width="2.40" stroke-linecap="round"/>
<line x1="1589.50" y1="582.50" x2="1589.50" y2="597.80" stroke="#000" stroke-width="2.40" stroke-linecap="round"/>
<line x1="952.00" y1="134.50" x2="960.75" y2="134.50" stroke="#000" stroke-width="2.00" stroke-linecap="butt"/>
<line x1="952.00" y1="218.00" x2="960.75" y2="218.00" stroke="#000" stroke-width="2.00" stroke-linecap="butt"/>
<line x1="952.00" y1="301.75" x2="960.75" y2="301.75" stroke="#000" stroke-width="2.00" stroke-linecap="butt"/>
<line x1="952.00" y1="385.00" x2="960.75" y2="385.00" stroke="#000" stroke-width="2.00" stroke-linecap="butt"/>
<line x1="952.00" y1="468.75" x2="960.75" y2="468.75" stroke="#000" stroke-width="2.00" stroke-linecap="butt"/>
<line x1="952.00" y1="552.50" x2="960.75" y2="552.50" stroke="#000" stroke-width="2.00" stroke-linecap="butt"/>
<path d="M1115.8 71.0L1118.8 77.0L1115.8 83.0L1112.8 77.0Z" fill="#000"/>
<path d="M1159.0 72.6L1162.0 78.6L1159.0 84.6L1156.0 78.6Z" fill="#000"/>
<path d="M987.4 295.9L990.4 301.9L987.4 307.9L984.4 301.9Z" fill="#000"/>
<path d="M992.9 295.9L995.9 301.9L992.9 307.9L989.9 301.9Z" fill="#000"/>
<path d="M1477.8 72.6L1480.8 78.6L1477.8 84.6L1474.8 78.6Z" fill="#000"/>
<path d="M1586.2 273.7L1589.2 279.7L1586.2 285.7L1583.2 279.7Z" fill="#000"/>
<path d="M985.3 395.3L988.3 401.3L985.3 407.3L982.3 401.3Z" fill="#000"/>
<path d="M1343.0 539.9L1346.0 545.9L1343.0 551.9L1340.0 545.9Z" fill="#000"/>
<path d="M1370.7 537.9L1373.7 543.9L1370.7 549.9L1367.7 543.9Z" fill="#000"/>
<path d="M1371.1 555.4L1374.1 561.4L1371.1 567.4L1368.1 561.4Z" fill="#000"/>
<path d="M1593.0 415.4L1596.0 421.4L1593.0 427.4L1590.0 421.4Z" fill="#c00000"/>
<path d="M1604.1 430.9L1607.1 436.9L1604.1 442.9L1601.1 436.9Z" fill="#c00000"/>
<text transform="translate(891.77 37.80) scale(1.0000 1)" font-size="39.00" font-weight="bold" fill="#000">C</text>
<text transform="translate(1208.32 32.30) scale(0.9683 1)" font-size="39.50" font-weight="bold" fill="#000">Loadings</text>
<text transform="translate(999.71 641.60) scale(0.9705 1)" font-size="26.50" fill="#000">−0.15</text>
<text transform="translate(1094.71 641.60) scale(0.9705 1)" font-size="26.50" fill="#000">−0.10</text>
<text transform="translate(1190.72 641.60) scale(0.9627 1)" font-size="26.50" fill="#000">−0.05</text>
<text transform="translate(1287.73 641.60) scale(0.9585 1)" font-size="26.50" fill="#000">0.00</text>
<text transform="translate(1383.49 641.60) scale(0.9535 1)" font-size="26.50" fill="#000">0.05</text>
<text transform="translate(1478.98 641.60) scale(0.9585 1)" font-size="26.50" fill="#000">0.10</text>
<text transform="translate(1573.23 641.60) scale(0.9636 1)" font-size="26.50" fill="#000">0.15</text>
<text transform="translate(1267.21 681.30) scale(0.9856 1)" font-size="26.00" font-weight="bold" fill="#000">p1 (16%)</text>
<text transform="translate(1519.94 674.80) scale(0.9718 1)" font-size="26.50" fill="#000">R2X0.429</text>
<text transform="translate(950.00 156.98) rotate(-90) scale(0.9283 1)" font-size="26.50" fill="#000">0.10</text>
<text transform="translate(950.00 240.94) rotate(-90) scale(0.8879 1)" font-size="26.50" fill="#000">0.05</text>
<text transform="translate(950.00 322.90) rotate(-90) scale(0.8475 1)" font-size="26.50" fill="#000">0.00</text>
<text transform="translate(950.00 416.26) rotate(-90) scale(0.9473 1)" font-size="26.50" fill="#000">−0.05</text>
<text transform="translate(950.00 500.01) rotate(-90) scale(0.9473 1)" font-size="26.50" fill="#000">−0.10</text>
<text transform="translate(950.00 583.76) rotate(-90) scale(0.9511 1)" font-size="26.50" fill="#000">−0.15</text>
<text transform="translate(892.50 406.80) rotate(-90) scale(0.9729 1)" font-size="26.50" font-weight="bold" fill="#000">pOrtho1 (16%)</text>
<text transform="translate(1176.47 92.50) scale(0.9395 1)" font-size="27.10" fill="#000"><tspan font-size="20.33">L</tspan><tspan>-Thr_plasma</tspan></text>
<text transform="translate(1077.21 125.00) scale(0.9477 1)" font-size="27.10" fill="#000"><tspan font-size="20.33">L</tspan><tspan>-Tyr_plasma</tspan></text>
<text transform="translate(1442.21 117.50) scale(0.9494 1)" font-size="27.10" fill="#000"><tspan font-size="20.33">L</tspan><tspan>-Cys_urine</tspan></text>
<text transform="translate(1407.45 255.50) scale(0.9531 1)" font-size="27.10" fill="#000"><tspan font-size="20.33">D/L</tspan><tspan>-Pro_urine</tspan></text>
<text transform="translate(1002.47 283.00) scale(0.9432 1)" font-size="27.10" fill="#000"><tspan font-size="20.33">L</tspan><tspan>-Phe_plasma</tspan></text>
<text transform="translate(993.45 338.75) scale(0.9557 1)" font-size="27.10" fill="#000"><tspan font-size="20.33">L</tspan><tspan>-Val_plasma</tspan></text>
<text transform="translate(992.95 465.75) scale(0.9520 1)" font-size="27.10" fill="#000"><tspan font-size="20.33">D/L</tspan><tspan>-Phe_urine</tspan></text>
<text transform="translate(1332.46 500.00) scale(0.9450 1)" font-size="27.10" fill="#000"><tspan font-size="20.33">L</tspan><tspan>-Lys_saliva</tspan></text>
<text transform="translate(1305.96 530.50) scale(0.9479 1)" font-size="27.10" fill="#000"><tspan font-size="20.33">D</tspan><tspan>-Lys_saliva</tspan></text>
<text transform="translate(1345.97 567.00) scale(0.9397 1)" font-size="27.10" fill="#000"><tspan font-size="20.33">L</tspan><tspan>-Pro_saliva</tspan></text>
<text transform="translate(1441.83 404.80) scale(0.9727 1)" font-size="32.90" fill="#c00000"><tspan font-size="24.67">D</tspan><tspan>-Ala _plasma</tspan></text>
<text transform="translate(1390.57 476.50) scale(0.9798 1)" font-size="32.90" fill="#c00000"><tspan font-size="24.67">D/L</tspan><tspan>-Ala_plasma</tspan></text>
<rect x="72.70" y="780.40" width="618.50" height="499.60" fill="none" stroke="#000" stroke-width="3.3" stroke-linejoin="round"/>
<line x1="76.80" y1="780.40" x2="76.80" y2="1280.00" stroke="#bebebe" stroke-width="4.00" stroke-linecap="round"/>
<line x1="178.00" y1="780.40" x2="178.00" y2="1280.00" stroke="#bebebe" stroke-width="4.00" stroke-linecap="round"/>
<line x1="280.00" y1="780.40" x2="280.00" y2="1280.00" stroke="#bebebe" stroke-width="4.00" stroke-linecap="round"/>
<line x1="484.25" y1="780.40" x2="484.25" y2="1280.00" stroke="#bebebe" stroke-width="4.00" stroke-linecap="round"/>
<line x1="586.25" y1="780.40" x2="586.25" y2="1280.00" stroke="#bebebe" stroke-width="4.00" stroke-linecap="round"/>
<line x1="687.40" y1="780.40" x2="687.40" y2="1280.00" stroke="#bebebe" stroke-width="4.00" stroke-linecap="round"/>
<line x1="72.70" y1="797.20" x2="691.20" y2="797.20" stroke="#bebebe" stroke-width="4.00" stroke-linecap="round"/>
<line x1="72.70" y1="912.50" x2="691.20" y2="912.50" stroke="#bebebe" stroke-width="4.00" stroke-linecap="round"/>
<line x1="72.70" y1="1145.00" x2="691.20" y2="1145.00" stroke="#bebebe" stroke-width="4.00" stroke-linecap="round"/>
<line x1="72.70" y1="1262.50" x2="691.20" y2="1262.50" stroke="#bebebe" stroke-width="4.00" stroke-linecap="round"/>
<line x1="382.00" y1="780.40" x2="382.00" y2="1280.00" stroke="#000" stroke-width="3.60" stroke-linecap="butt"/>
<line x1="72.70" y1="1030.00" x2="691.20" y2="1030.00" stroke="#000" stroke-width="3.60" stroke-linecap="butt"/>
<line x1="76.75" y1="1280.00" x2="76.75" y2="1295.00" stroke="#000" stroke-width="2.40" stroke-linecap="round"/>
<line x1="178.00" y1="1280.00" x2="178.00" y2="1295.00" stroke="#000" stroke-width="2.40" stroke-linecap="round"/>
<line x1="280.00" y1="1280.00" x2="280.00" y2="1295.00" stroke="#000" stroke-width="2.40" stroke-linecap="round"/>
<line x1="382.00" y1="1280.00" x2="382.00" y2="1295.00" stroke="#000" stroke-width="2.40" stroke-linecap="round"/>
<line x1="483.75" y1="1280.00" x2="483.75" y2="1295.00" stroke="#000" stroke-width="2.40" stroke-linecap="round"/>
<line x1="586.25" y1="1280.00" x2="586.25" y2="1295.00" stroke="#000" stroke-width="2.40" stroke-linecap="round"/>
<line x1="687.50" y1="1280.00" x2="687.50" y2="1295.00" stroke="#000" stroke-width="2.40" stroke-linecap="round"/>
<line x1="65.50" y1="797.00" x2="72.70" y2="797.00" stroke="#000" stroke-width="2.00" stroke-linecap="butt"/>
<line x1="65.50" y1="912.50" x2="72.70" y2="912.50" stroke="#000" stroke-width="2.00" stroke-linecap="butt"/>
<line x1="65.50" y1="1030.00" x2="72.70" y2="1030.00" stroke="#000" stroke-width="2.00" stroke-linecap="butt"/>
<line x1="65.50" y1="1145.00" x2="72.70" y2="1145.00" stroke="#000" stroke-width="2.00" stroke-linecap="butt"/>
<line x1="65.50" y1="1262.50" x2="72.70" y2="1262.50" stroke="#000" stroke-width="2.00" stroke-linecap="butt"/>
<ellipse cx="382" cy="1030" rx="286.9" ry="231.1" fill="none" stroke="#000" stroke-width="3.4"/>
<ellipse cx="266.25" cy="1029.60" rx="64.50" ry="242.90" transform="rotate(-7.390 266.25 1029.60)" fill="none" stroke="#c00000" stroke-width="3.40"/>
<ellipse cx="468.25" cy="1029.50" rx="38.80" ry="193.40" transform="rotate(8.100 468.25 1029.50)" fill="none" stroke="#0000ff" stroke-width="3.40"/>
<text transform="translate(332.61 756.00) scale(0.9619 1)" font-size="39.50" font-weight="bold" fill="#000">Scores</text>
<text transform="translate(62.50 812.10) rotate(-90) scale(0.9906 1)" font-size="26.50" fill="#000">10</text>
<text transform="translate(62.50 917.92) rotate(-90) scale(1.0000 1)" font-size="26.50" fill="#000">5</text>
<text transform="translate(62.50 1037.42) rotate(-90) scale(1.0000 1)" font-size="26.50" fill="#000">0</text>
<text transform="translate(62.50 1160.00) rotate(-90) scale(0.9434 1)" font-size="26.50" fill="#000">−5</text>
<text transform="translate(62.50 1284.99) rotate(-90) scale(0.9375 1)" font-size="26.50" fill="#000">−10</text>
<text transform="translate(35.00 1047.73) rotate(-90) scale(0.8723 1)" font-size="26.50" font-weight="bold" fill="#000">to1</text>
<text transform="translate(65.73 1336.50) scale(0.9720 1)" font-size="26.20" fill="#000">−15</text>
<text transform="translate(166.22 1336.50) scale(0.9779 1)" font-size="26.20" fill="#000">−10</text>
<text transform="translate(271.19 1336.50) scale(0.9996 1)" font-size="26.20" fill="#000">−5</text>
<text transform="translate(375.16 1336.50) scale(1.0000 1)" font-size="26.20" fill="#000">0</text>
<text transform="translate(477.66 1336.50) scale(1.0000 1)" font-size="26.20" fill="#000">5</text>
<text transform="translate(578.10 1336.50) scale(0.9065 1)" font-size="26.20" fill="#000">10</text>
<text transform="translate(679.08 1336.50) scale(0.9160 1)" font-size="26.20" fill="#000">15</text>
<text transform="translate(60.94 1376.80) scale(0.9592 1)" font-size="26.80" fill="#000">R2Y</text>
<text transform="translate(57.98 1408.60) scale(0.9652 1)" font-size="26.50" fill="#000">0.952</text>
<text transform="translate(183.51 1376.80) scale(0.9600 1)" font-size="26.80" fill="#000">Q2Y</text>
<text transform="translate(180.77 1410.50) scale(0.9699 1)" font-size="26.50" fill="#000">0.767</text>
<text transform="translate(356.75 1386.00) scale(0.9609 1)" font-size="26.50" font-weight="bold" fill="#000">t1 (16%)</text>
<text transform="translate(551.85 1377.00) scale(0.9701 1)" font-size="26.40" fill="#000">RMSEE</text>
<text transform="translate(670.65 1377.00) scale(0.9809 1)" font-size="26.40" fill="#000">pre</text>
<text transform="translate(557.84 1401.80) scale(1.0004 1)" font-size="26.40" fill="#000">0.117</text>
<text transform="translate(676.66 1401.80) scale(1.0000 1)" font-size="26.40" fill="#000">1</text>
<text transform="translate(20.18 995.80) scale(0.9721 1)" font-size="29.80" fill="#c00000">Patients with CKD</text>
<text transform="translate(539.70 996.30) scale(0.9663 1)" font-size="29.80" fill="#0000ff">Healthy controls</text>
<text transform="translate(234.97 886.00) scale(0.9820 1)" font-size="26.20" fill="#c00000">52</text>
<text transform="translate(217.46 897.50) scale(0.9823 1)" font-size="26.20" fill="#c00000">28</text>
<text transform="translate(261.68 1022.50) scale(1.0103 1)" font-size="26.20" fill="#c00000">23</text>
<text transform="translate(268.20 1057.50) scale(0.9913 1)" font-size="26.20" fill="#c00000">20</text>
<text transform="translate(319.44 1057.00) scale(1.0010 1)" font-size="26.20" fill="#c00000">22</text>
<text transform="translate(268.48 1073.75) scale(0.9725 1)" font-size="26.20" fill="#c00000">35</text>
<text transform="translate(238.74 1103.75) scale(0.9634 1)" font-size="26.20" fill="#c00000">24</text>
<text transform="translate(253.95 1143.00) scale(1.0005 1)" font-size="26.20" fill="#c00000">33</text>
<text transform="translate(261.69 1170.00) scale(1.0005 1)" font-size="26.20" fill="#c00000">25</text>
<text transform="translate(463.68 927.00) scale(1.0103 1)" font-size="26.20" fill="#0000ff">76</text>
<text transform="translate(463.80 952.50) scale(0.9175 1)" font-size="26.20" fill="#0000ff">74</text>
<text transform="translate(473.79 962.00) scale(0.9264 1)" font-size="26.20" fill="#0000ff">75</text>
<text transform="translate(480.69 982.00) scale(1.0010 1)" font-size="26.20" fill="#0000ff">78</text>
<text transform="translate(477.46 1023.75) scale(0.9823 1)" font-size="26.20" fill="#0000ff">79</text>
<text transform="translate(459.70 1050.00) scale(0.9916 1)" font-size="26.20" fill="#0000ff">67</text>
<text transform="translate(458.68 1066.00) scale(1.0103 1)" font-size="26.20" fill="#0000ff">66</text>
<text transform="translate(478.94 1066.00) scale(1.0092 1)" font-size="26.20" fill="#0000ff">80</text>
<text transform="translate(445.69 1076.00) scale(1.0010 1)" font-size="26.20" fill="#0000ff">73</text>
<text transform="translate(419.98 1129.50) scale(0.9727 1)" font-size="26.20" fill="#0000ff">65</text>
<text transform="translate(473.20 1125.00) scale(0.9916 1)" font-size="26.20" fill="#0000ff">69</text>
<text transform="translate(431.68 1176.75) scale(1.0103 1)" font-size="26.20" fill="#0000ff">68</text>
<rect x="943.50" y="785.75" width="657.70" height="497.25" fill="none" stroke="#000" stroke-width="3.30" stroke-linejoin="round"/>
<line x1="993.00" y1="785.75" x2="993.00" y2="1283.00" stroke="#bebebe" stroke-width="4.00" stroke-linecap="round"/>
<line x1="1086.00" y1="785.75" x2="1086.00" y2="1283.00" stroke="#bebebe" stroke-width="4.00" stroke-linecap="round"/>
<line x1="1179.00" y1="785.75" x2="1179.00" y2="1283.00" stroke="#bebebe" stroke-width="4.00" stroke-linecap="round"/>
<line x1="1365.25" y1="785.75" x2="1365.25" y2="1283.00" stroke="#bebebe" stroke-width="4.00" stroke-linecap="round"/>
<line x1="1458.50" y1="785.75" x2="1458.50" y2="1283.00" stroke="#bebebe" stroke-width="4.00" stroke-linecap="round"/>
<line x1="1551.50" y1="785.75" x2="1551.50" y2="1283.00" stroke="#bebebe" stroke-width="4.00" stroke-linecap="round"/>
<line x1="943.50" y1="800.75" x2="1601.20" y2="800.75" stroke="#bebebe" stroke-width="4.00" stroke-linecap="round"/>
<line x1="943.50" y1="917.50" x2="1601.20" y2="917.50" stroke="#bebebe" stroke-width="4.00" stroke-linecap="round"/>
<line x1="943.50" y1="1150.75" x2="1601.20" y2="1150.75" stroke="#bebebe" stroke-width="4.00" stroke-linecap="round"/>
<line x1="943.50" y1="1267.50" x2="1601.20" y2="1267.50" stroke="#bebebe" stroke-width="4.00" stroke-linecap="round"/>
<line x1="1272.25" y1="785.75" x2="1272.25" y2="1283.00" stroke="#000" stroke-width="3.60" stroke-linecap="butt"/>
<line x1="943.50" y1="1033.75" x2="1601.20" y2="1033.75" stroke="#000" stroke-width="3.60" stroke-linecap="butt"/>
<line x1="993.00" y1="1283.00" x2="993.00" y2="1297.80" stroke="#000" stroke-width="2.40" stroke-linecap="round"/>
<line x1="1086.00" y1="1283.00" x2="1086.00" y2="1297.80" stroke="#000" stroke-width="2.40" stroke-linecap="round"/>
<line x1="1179.00" y1="1283.00" x2="1179.00" y2="1297.80" stroke="#000" stroke-width="2.40" stroke-linecap="round"/>
<line x1="1272.25" y1="1283.00" x2="1272.25" y2="1297.80" stroke="#000" stroke-width="2.40" stroke-linecap="round"/>
<line x1="1365.25" y1="1283.00" x2="1365.25" y2="1297.80" stroke="#000" stroke-width="2.40" stroke-linecap="round"/>
<line x1="1458.50" y1="1283.00" x2="1458.50" y2="1297.80" stroke="#000" stroke-width="2.40" stroke-linecap="round"/>
<line x1="1551.50" y1="1283.00" x2="1551.50" y2="1297.80" stroke="#000" stroke-width="2.40" stroke-linecap="round"/>
<line x1="935.00" y1="800.75" x2="943.50" y2="800.75" stroke="#000" stroke-width="2.00" stroke-linecap="butt"/>
<line x1="935.00" y1="917.50" x2="943.50" y2="917.50" stroke="#000" stroke-width="2.00" stroke-linecap="butt"/>
<line x1="935.00" y1="1033.75" x2="943.50" y2="1033.75" stroke="#000" stroke-width="2.00" stroke-linecap="butt"/>
<line x1="935.00" y1="1150.75" x2="943.50" y2="1150.75" stroke="#000" stroke-width="2.00" stroke-linecap="butt"/>
<line x1="935.00" y1="1267.50" x2="943.50" y2="1267.50" stroke="#000" stroke-width="2.00" stroke-linecap="butt"/>
<ellipse cx="1272.5" cy="1034.1" rx="305.25" ry="229.6" fill="none" stroke="#000" stroke-width="3.4"/>
<ellipse cx="1174.50" cy="1034.60" rx="12.50" ry="143.50" transform="rotate(-2.200 1174.50 1034.60)" fill="none" stroke="#006400" stroke-width="3.40"/>
<ellipse cx="1350.50" cy="1034.40" rx="30.40" ry="209.40" transform="rotate(1.500 1350.50 1034.40)" fill="none" stroke="#c00000" stroke-width="3.40"/>
<text transform="translate(1219.85 760.00) scale(0.9716 1)" font-size="39.50" font-weight="bold" fill="#000">Scores</text>
<text transform="translate(933.50 815.02) rotate(-90) scale(0.9617 1)" font-size="26.50" fill="#000">20</text>
<text transform="translate(933.50 930.57) rotate(-90) scale(0.8585 1)" font-size="26.50" fill="#000">10</text>
<text transform="translate(933.50 1041.17) rotate(-90) scale(1.0000 1)" font-size="26.50" fill="#000">0</text>
<text transform="translate(933.50 1172.53) rotate(-90) scale(0.9668 1)" font-size="26.50" fill="#000">−10</text>
<text transform="translate(933.50 1289.99) rotate(-90) scale(0.9375 1)" font-size="26.50" fill="#000">−20</text>
<text transform="translate(902.00 1052.73) rotate(-90) scale(0.8723 1)" font-size="26.50" font-weight="bold" fill="#000">to1</text>
<text transform="translate(980.95 1339.50) scale(0.9898 1)" font-size="26.20" fill="#000">−15</text>
<text transform="translate(1073.95 1339.50) scale(0.9957 1)" font-size="26.20" fill="#000">−10</text>
<text transform="translate(1170.45 1339.50) scale(0.9905 1)" font-size="26.20" fill="#000">−5</text>
<text transform="translate(1265.41 1339.50) scale(1.0000 1)" font-size="26.20" fill="#000">0</text>
<text transform="translate(1358.79 1339.50) scale(1.0000 1)" font-size="26.20" fill="#000">5</text>
<text transform="translate(1448.25 1339.50) scale(0.9542 1)" font-size="26.20" fill="#000">10</text>
<text transform="translate(1542.00 1339.50) scale(0.9542 1)" font-size="26.20" fill="#000">15</text>
<text transform="translate(971.46 1381.50) scale(0.9531 1)" font-size="26.80" fill="#000">R2Y</text>
<text transform="translate(966.97 1406.50) scale(0.9738 1)" font-size="26.50" fill="#000">0.99</text>
<text transform="translate(1080.97 1379.00) scale(0.9571 1)" font-size="26.80" fill="#000">Q2Y</text>
<text transform="translate(1071.98 1402.80) scale(0.9666 1)" font-size="26.50" fill="#000">0.544</text>
<text transform="translate(1245.75 1390.00) scale(0.9559 1)" font-size="26.50" font-weight="bold" fill="#000">t1 (16%)</text>
<text transform="translate(1447.70 1379.00) scale(0.9690 1)" font-size="26.40" fill="#000">RMSEE</text>
<text transform="translate(1548.22 1375.50) scale(0.9682 1)" font-size="26.40" fill="#000">pre</text>
<text transform="translate(1456.22 1403.30) scale(0.9738 1)" font-size="26.50" fill="#000">0.06</text>
<text transform="translate(1553.06 1403.30) scale(1.0000 1)" font-size="26.50" fill="#000">1</text>
<text transform="translate(824.93 996.80) scale(0.9714 1)" font-size="29.80" fill="#006400">Patients with CKD without DM</text>
<text transform="translate(1384.18 996.30) scale(0.9734 1)" font-size="29.80" fill="#c00000">Patients with CKD and DM</text>
<text transform="translate(1164.19 972.50) scale(1.0010 1)" font-size="26.20" fill="#006400">22</text>
<text transform="translate(1164.21 1000.00) scale(0.9820 1)" font-size="26.20" fill="#006400">20</text>
<text transform="translate(1161.02 1087.00) scale(0.9355 1)" font-size="26.20" fill="#006400">23</text>
<text transform="translate(1173.48 1113.25) scale(0.9727 1)" font-size="26.20" fill="#006400">25</text>
<text transform="translate(1350.50 933.75) scale(0.9542 1)" font-size="26.20" fill="#c00000">52</text>
<text transform="translate(1338.94 1000.00) scale(1.0010 1)" font-size="26.20" fill="#c00000">28</text>
<text transform="translate(1329.95 1059.25) scale(1.0001 1)" font-size="26.20" fill="#c00000">35</text>
<text transform="translate(1330.96 1126.25) scale(0.9817 1)" font-size="26.20" fill="#c00000">24</text>
<text transform="translate(1357.93 1132.00) scale(1.0190 1)" font-size="26.20" fill="#c00000">33</text>
<text transform="translate(15.50 1481.00) scale(1.0000 1)" font-size="39.00" font-weight="bold" fill="#000">B</text>
<rect x="100.00" y="1437.50" width="610.75" height="62.00" fill="#bfbfbf" stroke="none" stroke-width="0.00" stroke-linejoin="round"/>
<text transform="translate(365.02 1480.10) scale(1.0201 1)" font-size="32.40" fill="#000"><tspan font-size="24.30">D</tspan><tspan>-Ser</tspan></text>
<text transform="translate(225.69 1528.10) scale(0.9612 1)" font-size="26.20" fill="#000">Plasma</text>
<text transform="translate(561.94 1528.10) scale(0.9521 1)" font-size="27.00" fill="#000">Urine</text>
<text transform="translate(42.45 1538.00) scale(0.9801 1)" font-size="26.30" fill="#000">(nmol/mL)</text>
<line x1="118.60" y1="1566.00" x2="118.60" y2="2009.00" stroke="#000" stroke-width="2.60" stroke-linecap="butt"/>
<text transform="translate(72.00 1576.00) scale(1.0000 1)" font-size="23.80" fill="#000">30</text>
<text transform="translate(72.00 1650.20) scale(1.0000 1)" font-size="23.80" fill="#000">25</text>
<text transform="translate(72.00 1722.40) scale(1.0000 1)" font-size="23.80" fill="#000">20</text>
<text transform="translate(72.00 1796.10) scale(1.0000 1)" font-size="23.80" fill="#000">15</text>
<text transform="translate(72.00 1870.00) scale(1.0000 1)" font-size="23.80" fill="#000">10</text>
<text transform="translate(85.32 1943.90) scale(1.0000 1)" font-size="23.80" fill="#000">5</text>
<text transform="translate(85.32 2014.80) scale(1.0000 1)" font-size="23.80" fill="#000">0</text>
<line x1="509.20" y1="1585.00" x2="509.20" y2="2009.30" stroke="#000" stroke-width="2.60" stroke-linecap="butt"/>
<text transform="translate(449.61 1595.00) scale(1.0000 1)" font-size="23.80" fill="#000">400</text>
<text transform="translate(449.61 1647.10) scale(1.0000 1)" font-size="23.80" fill="#000">350</text>
<text transform="translate(449.61 1700.20) scale(1.0000 1)" font-size="23.80" fill="#000">300</text>
<text transform="translate(449.61 1752.30) scale(1.0000 1)" font-size="23.80" fill="#000">250</text>
<text transform="translate(449.61 1807.50) scale(1.0000 1)" font-size="23.80" fill="#000">200</text>
<text transform="translate(449.61 1860.60) scale(1.0000 1)" font-size="23.80" fill="#000">150</text>
<text transform="translate(449.61 1912.70) scale(1.0000 1)" font-size="23.80" fill="#000">100</text>
<text transform="translate(462.70 1964.70) scale(1.0000 1)" font-size="23.80" fill="#000">50</text>
<text transform="translate(476.02 2016.80) scale(1.0000 1)" font-size="23.80" fill="#000">0</text>
<line x1="228.15" y1="1962.60" x2="228.15" y2="1969.70" stroke="#000" stroke-width="2.20" stroke-linecap="butt"/>
<line x1="223.15" y1="1962.60" x2="233.15" y2="1962.60" stroke="#000" stroke-width="2.60" stroke-linecap="butt"/>
<line x1="228.15" y1="1987.00" x2="228.15" y2="1994.00" stroke="#000" stroke-width="2.20" stroke-linecap="butt"/>
<line x1="223.15" y1="1994.00" x2="233.15" y2="1994.00" stroke="#000" stroke-width="2.60" stroke-linecap="butt"/>
<rect x="210.70" y="1969.70" width="34.90" height="17.30" fill="#1874cd" stroke="#000" stroke-width="2.60"/>
<line x1="210.70" y1="1981.30" x2="245.60" y2="1981.30" stroke="#000" stroke-width="2.60" stroke-linecap="butt"/>
<circle cx="228.15" cy="1962.60" r="4.20" fill="#1874cd" stroke="#1a1a1a" stroke-width="1.60"/>
<circle cx="228.15" cy="1970.00" r="4.20" fill="#1874cd" stroke="#1a1a1a" stroke-width="1.60"/>
<circle cx="228.15" cy="1992.00" r="4.20" fill="#1874cd" stroke="#1a1a1a" stroke-width="1.60"/>
<line x1="265.95" y1="1798.00" x2="265.95" y2="1852.70" stroke="#000" stroke-width="2.20" stroke-linecap="butt"/>
<line x1="260.60" y1="1798.00" x2="271.30" y2="1798.00" stroke="#000" stroke-width="2.60" stroke-linecap="butt"/>
<rect x="248.70" y="1852.70" width="34.50" height="79.40" fill="#006400" stroke="#000" stroke-width="2.60"/>
<line x1="248.70" y1="1912.20" x2="283.20" y2="1912.20" stroke="#000" stroke-width="2.60" stroke-linecap="butt"/>
<circle cx="265.95" cy="1869.50" r="4.20" fill="#006400" stroke="#1a1a1a" stroke-width="1.60"/>
<circle cx="265.95" cy="1900.50" r="4.20" fill="#006400" stroke="#1a1a1a" stroke-width="1.60"/>
<circle cx="265.95" cy="1930.40" r="4.20" fill="#006400" stroke="#1a1a1a" stroke-width="1.60"/>
<line x1="304.05" y1="1874.30" x2="304.05" y2="1884.10" stroke="#000" stroke-width="2.20" stroke-linecap="butt"/>
<line x1="298.70" y1="1874.30" x2="309.40" y2="1874.30" stroke="#000" stroke-width="2.60" stroke-linecap="butt"/>
<line x1="304.05" y1="1938.50" x2="304.05" y2="1944.20" stroke="#000" stroke-width="2.20" stroke-linecap="butt"/>
<line x1="298.70" y1="1944.20" x2="309.40" y2="1944.20" stroke="#000" stroke-width="2.60" stroke-linecap="butt"/>
<rect x="287.00" y="1884.10" width="34.10" height="54.40" fill="#c00000" stroke="#000" stroke-width="2.60"/>
<line x1="287.00" y1="1902.80" x2="321.10" y2="1902.80" stroke="#000" stroke-width="2.60" stroke-linecap="butt"/>
<circle cx="304.05" cy="1889.00" r="4.20" fill="#c00000" stroke="#1a1a1a" stroke-width="1.60"/>
<circle cx="304.05" cy="1916.60" r="4.20" fill="#c00000" stroke="#1a1a1a" stroke-width="1.60"/>
<circle cx="304.05" cy="1930.90" r="4.20" fill="#c00000" stroke="#1a1a1a" stroke-width="1.60"/>
<circle cx="304.05" cy="1944.20" r="4.20" fill="#c00000" stroke="#1a1a1a" stroke-width="1.60"/>
<line x1="342.45" y1="1670.70" x2="342.45" y2="1740.00" stroke="#000" stroke-width="2.20" stroke-linecap="butt"/>
<line x1="337.10" y1="1670.70" x2="347.80" y2="1670.70" stroke="#000" stroke-width="2.60" stroke-linecap="butt"/>
<line x1="342.45" y1="1848.80" x2="342.45" y2="2008.00" stroke="#000" stroke-width="2.20" stroke-linecap="butt"/>
<line x1="337.10" y1="2008.00" x2="347.80" y2="2008.00" stroke="#000" stroke-width="2.60" stroke-linecap="butt"/>
<rect x="325.80" y="1740.00" width="33.30" height="108.80" fill="#7030a0" stroke="#000" stroke-width="2.60"/>
<line x1="325.80" y1="1790.10" x2="359.10" y2="1790.10" stroke="#000" stroke-width="2.60" stroke-linecap="butt"/>
<circle cx="342.45" cy="1728.50" r="4.20" fill="#7030a0" stroke="#1a1a1a" stroke-width="1.60"/>
<circle cx="342.45" cy="1743.20" r="4.20" fill="#7030a0" stroke="#1a1a1a" stroke-width="1.60"/>
<circle cx="342.45" cy="1767.30" r="4.20" fill="#7030a0" stroke="#1a1a1a" stroke-width="1.60"/>
<circle cx="342.45" cy="1792.30" r="4.20" fill="#7030a0" stroke="#1a1a1a" stroke-width="1.60"/>
<circle cx="342.45" cy="1819.00" r="4.20" fill="#7030a0" stroke="#1a1a1a" stroke-width="1.60"/>
<circle cx="342.45" cy="1835.50" r="4.20" fill="#7030a0" stroke="#1a1a1a" stroke-width="1.60"/>
<circle cx="342.45" cy="1881.20" r="4.20" fill="#7030a0" stroke="#1a1a1a" stroke-width="1.60"/>
<line x1="378.90" y1="1642.00" x2="378.90" y2="1678.10" stroke="#000" stroke-width="2.20" stroke-linecap="butt"/>
<line x1="372.65" y1="1642.00" x2="385.15" y2="1642.00" stroke="#000" stroke-width="2.60" stroke-linecap="butt"/>
<line x1="378.90" y1="1826.30" x2="378.90" y2="1874.30" stroke="#000" stroke-width="2.20" stroke-linecap="butt"/>
<line x1="372.65" y1="1874.30" x2="385.15" y2="1874.30" stroke="#000" stroke-width="2.60" stroke-linecap="butt"/>
<rect x="360.80" y="1678.10" width="36.20" height="148.20" fill="#ed7d31" stroke="#000" stroke-width="2.60"/>
<line x1="360.80" y1="1785.40" x2="397.00" y2="1785.40" stroke="#000" stroke-width="2.60" stroke-linecap="butt"/>
<circle cx="378.90" cy="1663.80" r="4.20" fill="#ed7d31" stroke="#1a1a1a" stroke-width="1.60"/>
<circle cx="378.90" cy="1692.30" r="4.20" fill="#ed7d31" stroke="#1a1a1a" stroke-width="1.60"/>
<circle cx="378.90" cy="1757.00" r="4.20" fill="#ed7d31" stroke="#1a1a1a" stroke-width="1.60"/>
<circle cx="378.90" cy="1793.20" r="4.20" fill="#ed7d31" stroke="#1a1a1a" stroke-width="1.60"/>
<circle cx="378.90" cy="1804.40" r="4.20" fill="#ed7d31" stroke="#1a1a1a" stroke-width="1.60"/>
<circle cx="378.90" cy="1850.10" r="4.20" fill="#ed7d31" stroke="#1a1a1a" stroke-width="1.60"/>
<text transform="translate(293.26 1558.61) scale(1.0140 1)" font-size="24.00" fill="#000">***</text>
<path d="M289.25 1575.00L289.25 1563.75L332.50 1563.75L332.50 1575.00" fill="none" stroke="#000" stroke-width="1.80"/>
<path d="M251.25 1588.75L251.25 1577.50L295.00 1577.50L295.00 1588.75" fill="none" stroke="#000" stroke-width="1.80"/>
<path d="M324.50 1588.75L324.50 1577.50L368.25 1577.50L368.25 1588.75" fill="none" stroke="#000" stroke-width="1.80"/>
<text transform="translate(342.90 1615.00) scale(1.0191 1)" font-size="25.70" fill="#000">NS</text>
<line x1="340.50" y1="1621.25" x2="376.75" y2="1621.25" stroke="#000" stroke-width="1.80" stroke-linecap="butt"/>
<text transform="translate(321.53 1649.86) scale(0.9854 1)" font-size="24.00" fill="#000">**</text>
<line x1="313.75" y1="1651.25" x2="349.50" y2="1651.25" stroke="#000" stroke-width="1.80" stroke-linecap="butt"/>
<text transform="translate(215.73 1684.76) scale(0.9882 1)" font-size="24.00" fill="#000">***</text>
<path d="M212.80 1698.25L212.80 1686.75L256.80 1686.75L256.80 1698.25" fill="none" stroke="#000" stroke-width="1.80"/>
<path d="M246.00 1712.10L246.00 1700.60L289.90 1700.60L289.90 1712.10" fill="none" stroke="#000" stroke-width="1.80"/>
<text transform="translate(264.14 1744.00) scale(1.0794 1)" font-size="25.00" fill="#000">NS</text>
<line x1="258.80" y1="1753.90" x2="295.30" y2="1753.90" stroke="#000" stroke-width="1.80" stroke-linecap="butt"/>
<text transform="translate(247.73 1783.16) scale(0.9854 1)" font-size="24.00" fill="#000">**</text>
<line x1="236.00" y1="1784.00" x2="272.80" y2="1784.00" stroke="#000" stroke-width="1.80" stroke-linecap="butt"/>
<line x1="581.05" y1="1640.00" x2="581.05" y2="1714.00" stroke="#000" stroke-width="2.20" stroke-linecap="butt"/>
<line x1="574.40" y1="1640.00" x2="587.70" y2="1640.00" stroke="#000" stroke-width="2.60" stroke-linecap="butt"/>
<line x1="581.05" y1="1844.70" x2="581.05" y2="1949.80" stroke="#000" stroke-width="2.20" stroke-linecap="butt"/>
<line x1="574.40" y1="1949.80" x2="587.70" y2="1949.80" stroke="#000" stroke-width="2.60" stroke-linecap="butt"/>
<rect x="563.20" y="1714.00" width="35.70" height="130.70" fill="#4472c4" stroke="#000" stroke-width="2.60"/>
<line x1="563.20" y1="1760.80" x2="598.90" y2="1760.80" stroke="#000" stroke-width="2.60" stroke-linecap="butt"/>
<circle cx="581.05" cy="1699.20" r="4.20" fill="#4472c4" stroke="#1a1a1a" stroke-width="1.60"/>
<circle cx="581.05" cy="1717.20" r="4.20" fill="#4472c4" stroke="#1a1a1a" stroke-width="1.60"/>
<circle cx="581.05" cy="1741.60" r="4.20" fill="#4472c4" stroke="#1a1a1a" stroke-width="1.60"/>
<circle cx="581.05" cy="1787.30" r="4.20" fill="#4472c4" stroke="#1a1a1a" stroke-width="1.60"/>
<circle cx="581.05" cy="1806.40" r="4.20" fill="#4472c4" stroke="#1a1a1a" stroke-width="1.60"/>
<circle cx="581.05" cy="1865.90" r="4.20" fill="#4472c4" stroke="#1a1a1a" stroke-width="1.60"/>
<line x1="619.05" y1="1908.40" x2="619.05" y2="1935.40" stroke="#000" stroke-width="2.20" stroke-linecap="butt"/>
<line x1="613.05" y1="1908.40" x2="625.05" y2="1908.40" stroke="#000" stroke-width="2.60" stroke-linecap="butt"/>
<line x1="619.05" y1="1977.90" x2="619.05" y2="2009.30" stroke="#000" stroke-width="2.20" stroke-linecap="butt"/>
<line x1="613.05" y1="2009.30" x2="625.05" y2="2009.30" stroke="#000" stroke-width="2.60" stroke-linecap="butt"/>
<rect x="601.00" y="1935.40" width="36.10" height="42.50" fill="#006400" stroke="#000" stroke-width="2.60"/>
<line x1="601.00" y1="1950.90" x2="637.10" y2="1950.90" stroke="#000" stroke-width="2.60" stroke-linecap="butt"/>
<circle cx="619.05" cy="1954.00" r="4.20" fill="#006400" stroke="#1a1a1a" stroke-width="1.60"/>
<circle cx="619.05" cy="1965.80" r="4.20" fill="#006400" stroke="#1a1a1a" stroke-width="1.60"/>
<line x1="657.35" y1="1912.70" x2="657.35" y2="1916.30" stroke="#000" stroke-width="2.20" stroke-linecap="butt"/>
<line x1="651.00" y1="1912.70" x2="663.70" y2="1912.70" stroke="#000" stroke-width="2.60" stroke-linecap="butt"/>
<line x1="657.35" y1="1971.10" x2="657.35" y2="1987.70" stroke="#000" stroke-width="2.20" stroke-linecap="butt"/>
<line x1="651.00" y1="1987.70" x2="663.70" y2="1987.70" stroke="#000" stroke-width="2.60" stroke-linecap="butt"/>
<rect x="639.30" y="1916.30" width="36.10" height="54.80" fill="#c00000" stroke="#000" stroke-width="2.60"/>
<line x1="639.30" y1="1949.20" x2="675.40" y2="1949.20" stroke="#000" stroke-width="2.60" stroke-linecap="butt"/>
<circle cx="657.35" cy="1914.80" r="4.20" fill="#c00000" stroke="#1a1a1a" stroke-width="1.60"/>
<circle cx="657.35" cy="1932.80" r="4.20" fill="#c00000" stroke="#1a1a1a" stroke-width="1.60"/>
<circle cx="657.35" cy="1948.80" r="4.20" fill="#c00000" stroke="#1a1a1a" stroke-width="1.60"/>
<circle cx="657.35" cy="1959.40" r="4.20" fill="#c00000" stroke="#1a1a1a" stroke-width="1.60"/>
<circle cx="657.35" cy="1971.10" r="4.20" fill="#c00000" stroke="#1a1a1a" stroke-width="1.60"/>
<text transform="translate(592.01 1593.56) scale(1.0177 1)" font-size="24.00" fill="#000">***</text>
<line x1="577.70" y1="1597.80" x2="645.60" y2="1597.80" stroke="#000" stroke-width="1.80" stroke-linecap="butt"/>
<text transform="translate(575.01 1629.26) scale(1.0177 1)" font-size="24.00" fill="#000">***</text>
<line x1="575.10" y1="1632.20" x2="611.60" y2="1632.20" stroke="#000" stroke-width="1.80" stroke-linecap="butt"/>
<text transform="translate(891.00 1477.80) scale(1.0000 1)" font-size="39.00" font-weight="bold" fill="#000">D</text>
<rect x="995.00" y="1431.25" width="614.25" height="61.75" fill="#bfbfbf" stroke="none" stroke-width="0.00" stroke-linejoin="round"/>
<text transform="translate(1263.04 1474.00) scale(1.0072 1)" font-size="32.40" fill="#000"><tspan font-size="24.30">D</tspan><tspan>-Ala</tspan></text>
<text transform="translate(1117.46 1528.10) scale(0.9718 1)" font-size="26.20" fill="#000">Plasma</text>
<text transform="translate(1426.69 1528.10) scale(0.9546 1)" font-size="27.00" fill="#000">Urine</text>
<text transform="translate(910.94 1538.00) scale(0.9875 1)" font-size="26.30" fill="#000">(nmol/mL)</text>
<line x1="992.00" y1="1584.40" x2="992.00" y2="1997.40" stroke="#000" stroke-width="1.60" stroke-linecap="butt"/>
<text transform="translate(932.31 1595.00) scale(1.0000 1)" font-size="23.80" fill="#000">100</text>
<text transform="translate(945.40 1635.40) scale(1.0000 1)" font-size="23.80" fill="#000">90</text>
<text transform="translate(945.40 1677.80) scale(1.0000 1)" font-size="23.80" fill="#000">80</text>
<text transform="translate(945.40 1718.20) scale(1.0000 1)" font-size="23.80" fill="#000">70</text>
<text transform="translate(945.40 1758.50) scale(1.0000 1)" font-size="23.80" fill="#000">60</text>
<text transform="translate(945.40 1801.00) scale(1.0000 1)" font-size="23.80" fill="#000">50</text>
<text transform="translate(945.40 1841.30) scale(1.0000 1)" font-size="23.80" fill="#000">40</text>
<text transform="translate(945.40 1883.80) scale(1.0000 1)" font-size="23.80" fill="#000">30</text>
<text transform="translate(945.40 1924.10) scale(1.0000 1)" font-size="23.80" fill="#000">20</text>
<text transform="translate(945.40 1967.20) scale(1.0000 1)" font-size="23.80" fill="#000">10</text>
<text transform="translate(958.72 2001.60) scale(1.0000 1)" font-size="23.80" fill="#000">0</text>
<line x1="1370.20" y1="1571.40" x2="1370.20" y2="1997.60" stroke="#000" stroke-width="1.60" stroke-linecap="butt"/>
<text transform="translate(1309.31 1582.30) scale(1.0000 1)" font-size="23.80" fill="#000">200</text>
<text transform="translate(1309.31 1626.30) scale(1.0000 1)" font-size="23.80" fill="#000">180</text>
<text transform="translate(1309.31 1666.90) scale(1.0000 1)" font-size="23.80" fill="#000">160</text>
<text transform="translate(1309.31 1709.20) scale(1.0000 1)" font-size="23.80" fill="#000">140</text>
<text transform="translate(1309.31 1752.10) scale(1.0000 1)" font-size="23.80" fill="#000">120</text>
<text transform="translate(1309.31 1794.20) scale(1.0000 1)" font-size="23.80" fill="#000">100</text>
<text transform="translate(1322.40 1835.00) scale(1.0000 1)" font-size="23.80" fill="#000">80</text>
<text transform="translate(1322.40 1877.20) scale(1.0000 1)" font-size="23.80" fill="#000">60</text>
<text transform="translate(1322.40 1919.50) scale(1.0000 1)" font-size="23.80" fill="#000">40</text>
<text transform="translate(1322.40 1964.00) scale(1.0000 1)" font-size="23.80" fill="#000">20</text>
<text transform="translate(1335.72 2004.10) scale(1.0000 1)" font-size="23.80" fill="#000">0</text>
<rect x="1084.40" y="1990.90" width="36.90" height="5.70" fill="#1874cd" stroke="#000" stroke-width="1.80"/>
<line x1="1084.40" y1="1996.60" x2="1121.30" y2="1996.60" stroke="#000" stroke-width="1.80" stroke-linecap="butt"/>
<circle cx="1102.85" cy="1979.30" r="4.20" fill="#1874cd" stroke="#1a1a1a" stroke-width="1.60"/>
<circle cx="1102.85" cy="1998.80" r="4.20" fill="#1874cd" stroke="#1a1a1a" stroke-width="1.60"/>
<rect x="1122.60" y="1973.70" width="34.60" height="24.10" fill="#006400" stroke="#000" stroke-width="2.40"/>
<line x1="1122.60" y1="1980.70" x2="1157.20" y2="1980.70" stroke="#000" stroke-width="2.40" stroke-linecap="butt"/>
<circle cx="1139.90" cy="1970.20" r="4.20" fill="#006400" stroke="#1a1a1a" stroke-width="1.60"/>
<circle cx="1139.90" cy="1980.00" r="4.20" fill="#006400" stroke="#1a1a1a" stroke-width="1.60"/>
<circle cx="1139.90" cy="1988.30" r="4.20" fill="#006400" stroke="#1a1a1a" stroke-width="1.60"/>
<circle cx="1139.90" cy="1998.80" r="4.20" fill="#006400" stroke="#1a1a1a" stroke-width="1.60"/>
<line x1="1178.10" y1="1913.00" x2="1178.10" y2="1926.80" stroke="#000" stroke-width="2.20" stroke-linecap="butt"/>
<line x1="1174.10" y1="1913.00" x2="1182.10" y2="1913.00" stroke="#000" stroke-width="2.60" stroke-linecap="butt"/>
<rect x="1160.90" y="1926.80" width="34.40" height="45.10" fill="#c00000" stroke="#000" stroke-width="2.40"/>
<line x1="1160.90" y1="1950.70" x2="1195.30" y2="1950.70" stroke="#000" stroke-width="2.40" stroke-linecap="butt"/>
<circle cx="1178.10" cy="1918.70" r="4.20" fill="#c00000" stroke="#1a1a1a" stroke-width="1.60"/>
<circle cx="1178.10" cy="1949.30" r="4.20" fill="#c00000" stroke="#1a1a1a" stroke-width="1.60"/>
<circle cx="1178.10" cy="1957.70" r="4.20" fill="#c00000" stroke="#1a1a1a" stroke-width="1.60"/>
<circle cx="1178.10" cy="1967.40" r="4.20" fill="#c00000" stroke="#1a1a1a" stroke-width="1.60"/>
<circle cx="1178.10" cy="1974.40" r="4.20" fill="#c00000" stroke="#1a1a1a" stroke-width="1.60"/>
<line x1="1215.95" y1="1810.80" x2="1215.95" y2="1874.20" stroke="#000" stroke-width="2.20" stroke-linecap="butt"/>
<line x1="1211.45" y1="1810.80" x2="1220.45" y2="1810.80" stroke="#000" stroke-width="2.60" stroke-linecap="butt"/>
<line x1="1215.95" y1="1945.40" x2="1215.95" y2="1974.40" stroke="#000" stroke-width="2.20" stroke-linecap="butt"/>
<line x1="1211.45" y1="1974.40" x2="1220.45" y2="1974.40" stroke="#000" stroke-width="2.60" stroke-linecap="butt"/>
<rect x="1198.90" y="1874.20" width="34.10" height="71.20" fill="#7030a0" stroke="#000" stroke-width="2.40"/>
<line x1="1198.90" y1="1922.20" x2="1233.00" y2="1922.20" stroke="#000" stroke-width="2.40" stroke-linecap="butt"/>
<circle cx="1215.95" cy="1816.40" r="4.20" fill="#7030a0" stroke="#1a1a1a" stroke-width="1.60"/>
<circle cx="1215.95" cy="1893.60" r="4.20" fill="#7030a0" stroke="#1a1a1a" stroke-width="1.60"/>
<circle cx="1215.95" cy="1914.50" r="4.20" fill="#7030a0" stroke="#1a1a1a" stroke-width="1.60"/>
<circle cx="1215.95" cy="1937.50" r="4.20" fill="#7030a0" stroke="#1a1a1a" stroke-width="1.60"/>
<circle cx="1215.95" cy="1964.70" r="4.20" fill="#7030a0" stroke="#1a1a1a" stroke-width="1.60"/>
<line x1="1254.45" y1="1637.50" x2="1254.45" y2="1812.60" stroke="#000" stroke-width="2.20" stroke-linecap="butt"/>
<line x1="1249.45" y1="1637.50" x2="1259.45" y2="1637.50" stroke="#000" stroke-width="2.60" stroke-linecap="butt"/>
<line x1="1254.45" y1="1940.70" x2="1254.45" y2="1964.70" stroke="#000" stroke-width="2.20" stroke-linecap="butt"/>
<line x1="1249.45" y1="1964.70" x2="1259.45" y2="1964.70" stroke="#000" stroke-width="2.60" stroke-linecap="butt"/>
<rect x="1237.60" y="1812.60" width="33.70" height="128.10" fill="#ed7d31" stroke="#000" stroke-width="2.40"/>
<line x1="1237.60" y1="1891.10" x2="1271.30" y2="1891.10" stroke="#000" stroke-width="2.40" stroke-linecap="butt"/>
<circle cx="1254.45" cy="1815.70" r="4.20" fill="#ed7d31" stroke="#1a1a1a" stroke-width="1.60"/>
<circle cx="1254.45" cy="1865.10" r="4.20" fill="#ed7d31" stroke="#1a1a1a" stroke-width="1.60"/>
<circle cx="1254.45" cy="1900.60" r="4.20" fill="#ed7d31" stroke="#1a1a1a" stroke-width="1.60"/>
<circle cx="1254.45" cy="1931.90" r="4.20" fill="#ed7d31" stroke="#1a1a1a" stroke-width="1.60"/>
<circle cx="1254.45" cy="1948.60" r="4.20" fill="#ed7d31" stroke="#1a1a1a" stroke-width="1.60"/>
<text transform="translate(1158.26 1564.86) scale(1.0140 1)" font-size="24.00" fill="#000">***</text>
<path d="M1157.00 1580.00L1157.00 1569.50L1199.50 1569.50L1199.50 1580.00" fill="none" stroke="#000" stroke-width="1.80"/>
<path d="M1122.00 1592.50L1122.00 1582.50L1165.00 1582.50L1165.00 1592.50" fill="none" stroke="#000" stroke-width="1.80"/>
<path d="M1195.00 1592.50L1195.00 1582.50L1238.75 1582.50L1238.75 1592.50" fill="none" stroke="#000" stroke-width="1.80"/>
<text transform="translate(1218.36 1621.25) scale(1.0714 1)" font-size="25.00" fill="#000">NS</text>
<line x1="1217.50" y1="1632.50" x2="1253.75" y2="1632.50" stroke="#000" stroke-width="1.80" stroke-linecap="butt"/>
<text transform="translate(1171.96 1783.70) scale(1.0865 1)" font-size="24.00" fill="#000">0.06</text>
<line x1="1174.90" y1="1798.30" x2="1211.70" y2="1798.30" stroke="#000" stroke-width="1.80" stroke-linecap="butt"/>
<text transform="translate(1110.33 1836.36) scale(0.9797 1)" font-size="24.00" fill="#000">**</text>
<path d="M1101.10 1846.30L1101.10 1835.20L1144.90 1835.20L1144.90 1846.30" fill="none" stroke="#000" stroke-width="1.80"/>
<path d="M1127.10 1859.50L1127.10 1848.40L1171.00 1848.40L1171.00 1859.50" fill="none" stroke="#000" stroke-width="1.80"/>
<text transform="translate(1148.61 1892.06) scale(1.0191 1)" font-size="24.00" fill="#000">**</text>
<line x1="1141.40" y1="1897.50" x2="1177.90" y2="1897.50" stroke="#000" stroke-width="1.80" stroke-linecap="butt"/>
<text transform="translate(1102.42 1950.40) scale(1.0413 1)" font-size="25.00" fill="#000">NS</text>
<line x1="1100.40" y1="1959.10" x2="1137.30" y2="1959.10" stroke="#000" stroke-width="1.80" stroke-linecap="butt"/>
<line x1="1441.05" y1="1774.70" x2="1441.05" y2="1801.30" stroke="#000" stroke-width="2.20" stroke-linecap="butt"/>
<line x1="1434.35" y1="1774.70" x2="1447.75" y2="1774.70" stroke="#000" stroke-width="2.60" stroke-linecap="butt"/>
<line x1="1441.05" y1="1917.40" x2="1441.05" y2="1983.50" stroke="#000" stroke-width="2.20" stroke-linecap="butt"/>
<line x1="1434.35" y1="1983.50" x2="1447.75" y2="1983.50" stroke="#000" stroke-width="2.60" stroke-linecap="butt"/>
<rect x="1423.40" y="1801.30" width="35.30" height="116.10" fill="#4472c4" stroke="#000" stroke-width="2.60"/>
<line x1="1423.40" y1="1858.20" x2="1458.70" y2="1858.20" stroke="#000" stroke-width="2.60" stroke-linecap="butt"/>
<circle cx="1441.05" cy="1776.40" r="4.20" fill="#4472c4" stroke="#1a1a1a" stroke-width="1.60"/>
<circle cx="1441.05" cy="1800.20" r="4.20" fill="#4472c4" stroke="#1a1a1a" stroke-width="1.60"/>
<circle cx="1441.05" cy="1813.70" r="4.20" fill="#4472c4" stroke="#1a1a1a" stroke-width="1.60"/>
<circle cx="1441.05" cy="1852.30" r="4.20" fill="#4472c4" stroke="#1a1a1a" stroke-width="1.60"/>
<circle cx="1441.05" cy="1863.10" r="4.20" fill="#4472c4" stroke="#1a1a1a" stroke-width="1.60"/>
<circle cx="1441.05" cy="1889.20" r="4.20" fill="#4472c4" stroke="#1a1a1a" stroke-width="1.60"/>
<circle cx="1441.05" cy="1901.10" r="4.20" fill="#4472c4" stroke="#1a1a1a" stroke-width="1.60"/>
<circle cx="1441.05" cy="1929.30" r="4.20" fill="#4472c4" stroke="#1a1a1a" stroke-width="1.60"/>
<line x1="1479.20" y1="1774.70" x2="1479.20" y2="1882.70" stroke="#000" stroke-width="2.20" stroke-linecap="butt"/>
<line x1="1473.00" y1="1774.70" x2="1485.40" y2="1774.70" stroke="#000" stroke-width="2.60" stroke-linecap="butt"/>
<rect x="1461.30" y="1882.70" width="35.80" height="91.00" fill="#006400" stroke="#000" stroke-width="2.60"/>
<line x1="1461.30" y1="1945.50" x2="1497.10" y2="1945.50" stroke="#000" stroke-width="2.60" stroke-linecap="butt"/>
<circle cx="1479.20" cy="1920.00" r="4.20" fill="#006400" stroke="#1a1a1a" stroke-width="1.60"/>
<circle cx="1479.20" cy="1971.60" r="4.20" fill="#006400" stroke="#1a1a1a" stroke-width="1.60"/>
<line x1="1517.20" y1="1632.20" x2="1517.20" y2="1694.00" stroke="#000" stroke-width="2.20" stroke-linecap="butt"/>
<line x1="1511.25" y1="1632.20" x2="1523.15" y2="1632.20" stroke="#000" stroke-width="2.60" stroke-linecap="butt"/>
<line x1="1517.20" y1="1951.00" x2="1517.20" y2="1962.90" stroke="#000" stroke-width="2.20" stroke-linecap="butt"/>
<line x1="1511.25" y1="1962.90" x2="1523.15" y2="1962.90" stroke="#000" stroke-width="2.60" stroke-linecap="butt"/>
<rect x="1499.30" y="1694.00" width="35.80" height="257.00" fill="#c00000" stroke="#000" stroke-width="2.60"/>
<line x1="1499.30" y1="1890.70" x2="1535.10" y2="1890.70" stroke="#000" stroke-width="2.60" stroke-linecap="butt"/>
<circle cx="1517.20" cy="1694.40" r="4.20" fill="#c00000" stroke="#1a1a1a" stroke-width="1.60"/>
<circle cx="1517.20" cy="1801.30" r="4.20" fill="#c00000" stroke="#1a1a1a" stroke-width="1.60"/>
<circle cx="1517.20" cy="1891.30" r="4.20" fill="#c00000" stroke="#1a1a1a" stroke-width="1.60"/>
<circle cx="1517.20" cy="1932.10" r="4.20" fill="#c00000" stroke="#1a1a1a" stroke-width="1.60"/>
<circle cx="1517.20" cy="1949.90" r="4.20" fill="#c00000" stroke="#1a1a1a" stroke-width="1.60"/>
<text transform="translate(623.31 2097.90) scale(0.9665 1)" font-size="26.50" font-weight="bold" fill="#000">Plasma samples</text>
<rect x="625.90" y="2132.20" width="30.50" height="21.00" fill="#0070c0" stroke="#000" stroke-width="3.10" stroke-linejoin="round"/>
<text transform="translate(671.03 2146.30) scale(0.9749 1)" font-size="26.50" fill="#000">Healthy controls (n = 12)</text>
<rect x="625.90" y="2182.30" width="30.50" height="20.50" fill="#3b5e28" stroke="#000" stroke-width="3.10" stroke-linejoin="round"/>
<text transform="translate(670.23 2201.50) scale(0.9769 1)" font-size="26.50" fill="#000">Patients without DM (n = 6)</text>
<rect x="625.90" y="2228.30" width="30.50" height="21.00" fill="#c00000" stroke="#000" stroke-width="3.10" stroke-linejoin="round"/>
<text transform="translate(667.93 2246.60) scale(0.9765 1)" font-size="26.50" fill="#000">Patients with DM (n = 8)</text>
<rect x="625.90" y="2288.20" width="30.50" height="19.90" fill="#7030a0" stroke="#000" stroke-width="3.10" stroke-linejoin="round"/>
<text transform="translate(667.93 2307.30) scale(0.9778 1)" font-size="26.50" fill="#000">Patients without DM (n = 10)</text>
<rect x="625.90" y="2333.50" width="30.50" height="20.20" fill="#ed7d31" stroke="#000" stroke-width="3.10" stroke-linejoin="round"/>
<text transform="translate(673.53 2353.00) scale(0.9761 1)" font-size="26.50" fill="#000">Patients with DM (n = 9)</text>
<text transform="translate(584.60 2242.27) rotate(-90) scale(1.0623 1)" font-size="24.00" fill="#000">CKD</text>
<path d="M609.6 2190.9L598.5 2190.9L598.5 2244.4L609.6 2244.4" fill="none" stroke="#000" stroke-width="1.6"/>
<text transform="translate(586.00 2340.53) rotate(-90) scale(1.0574 1)" font-size="24.00" fill="#000">HD</text>
<path d="M609.6 2293.9L598.5 2293.9L598.5 2347.4L609.6 2347.4" fill="none" stroke="#000" stroke-width="1.6"/>
<text transform="translate(1231.36 2091.40) scale(0.9669 1)" font-size="26.50" font-weight="bold" fill="#000">Urine samples</text>
<rect x="1246.20" y="2120.20" width="30.90" height="20.80" fill="#0070c0" stroke="#000" stroke-width="3.10" stroke-linejoin="round"/>
<text transform="translate(1291.53 2134.60) scale(0.9767 1)" font-size="26.50" fill="#000">Healthy controls (n = 12)</text>
<rect x="1245.10" y="2171.20" width="30.50" height="20.50" fill="#3b5e28" stroke="#000" stroke-width="3.10" stroke-linejoin="round"/>
<text transform="translate(1293.54 2185.30) scale(0.9741 1)" font-size="26.50" fill="#000">Patients without DM (n = 7)</text>
<rect x="1245.10" y="2222.20" width="30.50" height="21.00" fill="#c00000" stroke="#000" stroke-width="3.10" stroke-linejoin="round"/>
<text transform="translate(1288.53 2234.90) scale(0.9768 1)" font-size="26.50" fill="#000">Patients with DM (n = 6)</text>
<text transform="translate(1211.20 2235.27) rotate(-90) scale(1.0623 1)" font-size="24.00" fill="#000">CKD</text>
<path d="M1230.7 2181.1L1219 2181.1L1219 2234.9L1230.7 2234.9" fill="none" stroke="#000" stroke-width="1.6"/>
</svg></body></html>
